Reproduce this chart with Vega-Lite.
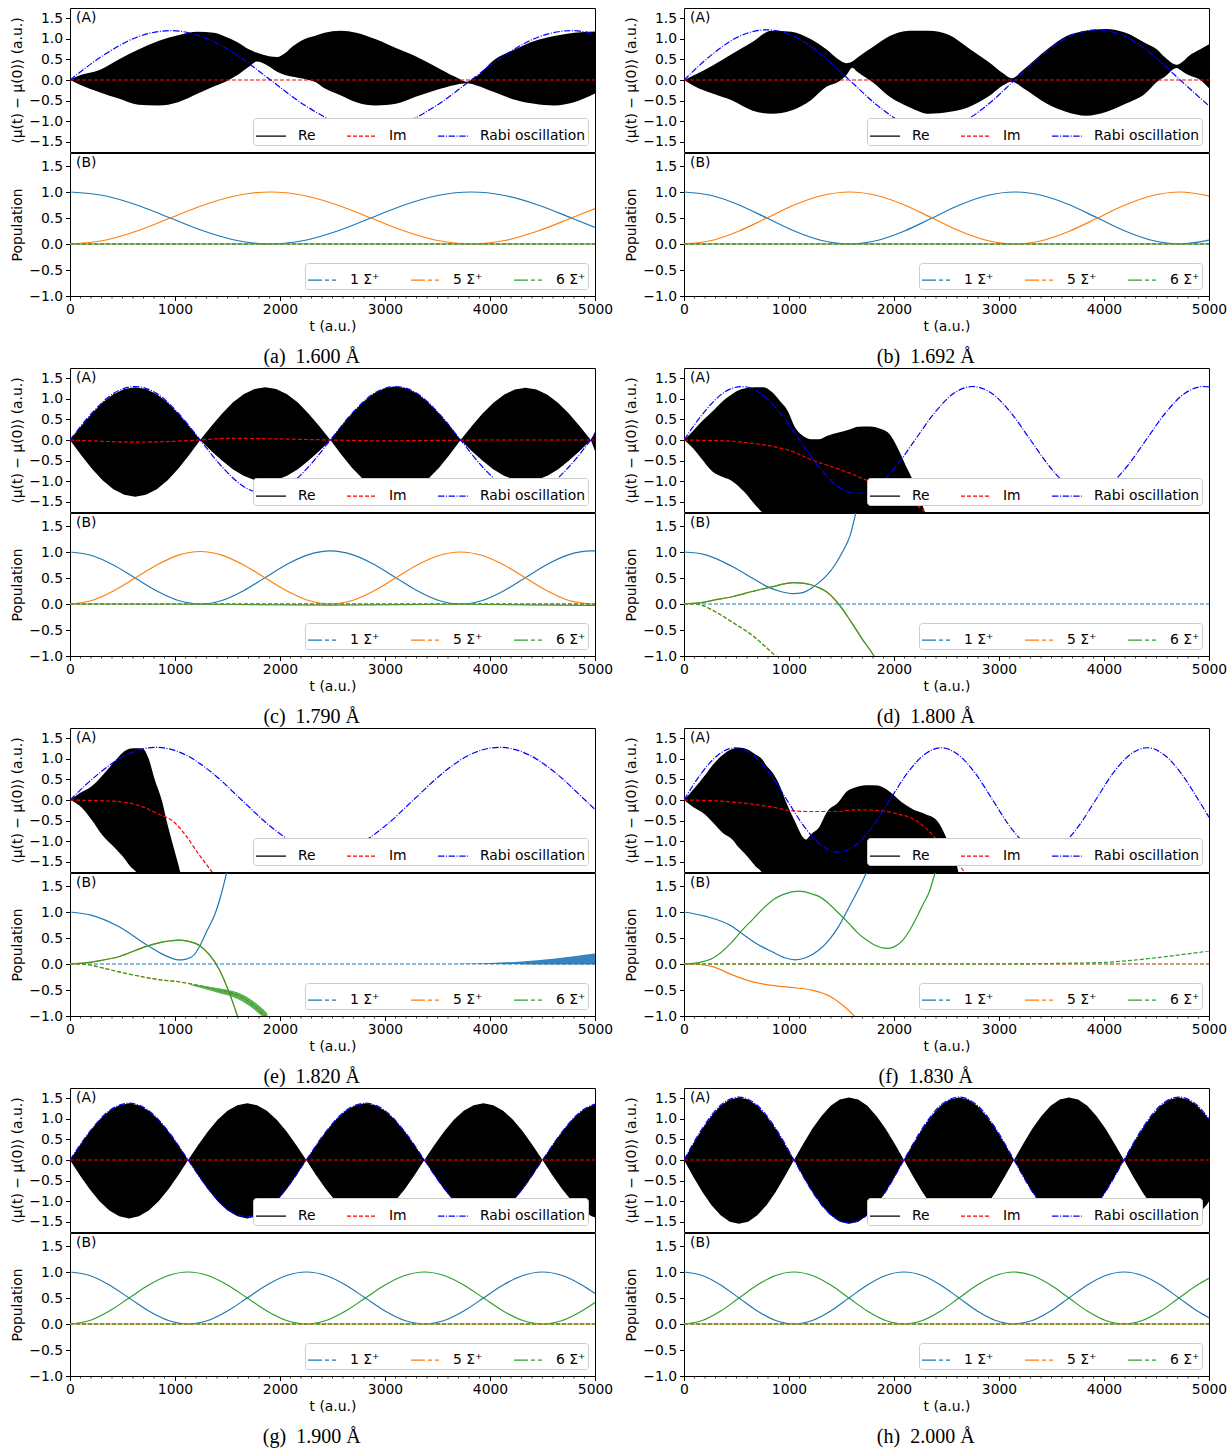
{
"$schema":"https://vega.github.io/schema/vega-lite/v6.json",
"padding":{"left":10,"top":7,"right":10,"bottom":5},
"background":"white",
"config":{
 "view":{"stroke":"black","strokeWidth":1},
 "axis":{"labelFont":"DejaVu Sans","labelFontSize":13.9,"labelColor":"black","titleFont":"DejaVu Sans","titleFontSize":13.9,"titleFontWeight":"normal","titleColor":"black","tickColor":"black","tickSize":4.5,"tickWidth":1,"grid":false,"domain":false,"labelPadding":3,"labelOverlap":false,"labelFlush":false,"labelBound":false},
 "legend":{"orient":"bottom-right","direction":"horizontal","columns":3,"symbolType":"stroke","symbolStrokeWidth":1.3,"columnPadding":28,"padding":2,"offset":7,"fillColor":"white","strokeColor":"#cccccc","cornerRadius":3,"labelFont":"DejaVu Sans","labelFontSize":13.9,"labelColor":"black"},
 "title":{"orient":"bottom","anchor":"middle","frame":"bounds","font":"Liberation Serif","fontSize":20,"fontWeight":"normal","color":"black","offset":13},
 "line":{"strokeWidth":1.2,"interpolate":"monotone"},
 "area":{"interpolate":"monotone"},
 "text":{"font":"DejaVu Sans","fontSize":13.9,"color":"black"}
},
"datasets":{
"minor":[{"t":100},{"t":200},{"t":300},{"t":400},{"t":500},{"t":600},{"t":700},{"t":800},{"t":900},{"t":1100},{"t":1200},{"t":1300},{"t":1400},{"t":1500},{"t":1600},{"t":1700},{"t":1800},{"t":1900},{"t":2100},{"t":2200},{"t":2300},{"t":2400},{"t":2500},{"t":2600},{"t":2700},{"t":2800},{"t":2900},{"t":3100},{"t":3200},{"t":3300},{"t":3400},{"t":3500},{"t":3600},{"t":3700},{"t":3800},{"t":3900},{"t":4100},{"t":4200},{"t":4300},{"t":4400},{"t":4500},{"t":4600},{"t":4700},{"t":4800},{"t":4900}],
"band":[
{"p":"e","s":"6","t":1150,"hi":-0.39,"lo":-0.41},{"p":"e","s":"6","t":1400,"hi":-0.46,"lo":-0.55},{"p":"e","s":"6","t":1600,"hi":-0.55,"lo":-0.68},{"p":"e","s":"6","t":1750,"hi":-0.72,"lo":-0.87},{"p":"e","s":"6","t":1880,"hi":-0.95,"lo":-1.1},
{"p":"e","s":"1","t":3700,"hi":0.005,"lo":0},{"p":"e","s":"1","t":4000,"hi":0.02,"lo":0},{"p":"e","s":"1","t":4300,"hi":0.05,"lo":-0.005},{"p":"e","s":"1","t":4600,"hi":0.1,"lo":-0.01},{"p":"e","s":"1","t":4800,"hi":0.15,"lo":-0.01},{"p":"e","s":"1","t":5000,"hi":0.2,"lo":-0.01}
],
"env":[
{"p":"a","t":0,"hi":0,"lo":0},{"p":"a","t":100,"hi":0.12,"lo":-0.12},{"p":"a","t":275,"hi":0.24,"lo":-0.29},{"p":"a","t":464,"hi":0.5,"lo":-0.45},{"p":"a","t":652,"hi":0.74,"lo":-0.6},{"p":"a","t":841,"hi":0.95,"lo":-0.62},{"p":"a","t":1029,"hi":1.09,"lo":-0.54},{"p":"a","t":1218,"hi":1.17,"lo":-0.33},{"p":"a","t":1368,"hi":1.15,"lo":-0.16},{"p":"a","t":1481,"hi":1.05,"lo":-0.04},{"p":"a","t":1595,"hi":0.92,"lo":0.12},{"p":"a","t":1708,"hi":0.74,"lo":0.33},{"p":"a","t":1783,"hi":0.66,"lo":0.45},{"p":"a","t":1896,"hi":0.58,"lo":0.33},{"p":"a","t":1972,"hi":0.56,"lo":0.2},{"p":"a","t":2047,"hi":0.65,"lo":0.12},{"p":"a","t":2122,"hi":0.82,"lo":0.08},{"p":"a","t":2198,"hi":0.95,"lo":0.04},{"p":"a","t":2273,"hi":1.03,"lo":0.0},{"p":"a","t":2330,"hi":1.07,"lo":-0.04},{"p":"a","t":2424,"hi":1.15,"lo":-0.2},{"p":"a","t":2575,"hi":1.2,"lo":-0.37},{"p":"a","t":2726,"hi":1.15,"lo":-0.54},{"p":"a","t":2914,"hi":0.99,"lo":-0.62},{"p":"a","t":3103,"hi":0.78,"lo":-0.58},{"p":"a","t":3291,"hi":0.58,"lo":-0.41},{"p":"a","t":3480,"hi":0.33,"lo":-0.25},{"p":"a","t":3668,"hi":0.08,"lo":-0.12},{"p":"a","t":3781,"hi":-0.04,"lo":-0.08},{"p":"a","t":3857,"hi":0.06,"lo":-0.12},{"p":"a","t":4045,"hi":0.5,"lo":-0.3},{"p":"a","t":4234,"hi":0.74,"lo":-0.48},{"p":"a","t":4422,"hi":0.95,"lo":-0.58},{"p":"a","t":4611,"hi":1.07,"lo":-0.62},{"p":"a","t":4800,"hi":1.15,"lo":-0.54},{"p":"a","t":5000,"hi":1.18,"lo":-0.33},
{"p":"b","t":0,"hi":0,"lo":0},{"p":"b","t":100,"hi":0.12,"lo":-0.15},{"p":"b","t":273,"hi":0.35,"lo":-0.33},{"p":"b","t":460,"hi":0.64,"lo":-0.5},{"p":"b","t":648,"hi":0.92,"lo":-0.74},{"p":"b","t":835,"hi":1.2,"lo":-0.82},{"p":"b","t":1022,"hi":1.17,"lo":-0.74},{"p":"b","t":1209,"hi":0.99,"lo":-0.49},{"p":"b","t":1359,"hi":0.74,"lo":-0.16},{"p":"b","t":1472,"hi":0.5,"lo":-0.04},{"p":"b","t":1547,"hi":0.41,"lo":0.12},{"p":"b","t":1603,"hi":0.45,"lo":0.3},{"p":"b","t":1650,"hi":0.54,"lo":0.2},{"p":"b","t":1809,"hi":0.82,"lo":-0.08},{"p":"b","t":1959,"hi":1.07,"lo":-0.41},{"p":"b","t":2146,"hi":1.2,"lo":-0.66},{"p":"b","t":2333,"hi":1.2,"lo":-0.82},{"p":"b","t":2520,"hi":1.1,"lo":-0.78},{"p":"b","t":2708,"hi":0.78,"lo":-0.66},{"p":"b","t":2895,"hi":0.45,"lo":-0.41},{"p":"b","t":3045,"hi":0.15,"lo":-0.12},{"p":"b","t":3120,"hi":0.04,"lo":-0.04},{"p":"b","t":3232,"hi":0.25,"lo":-0.2},{"p":"b","t":3457,"hi":0.74,"lo":-0.58},{"p":"b","t":3644,"hi":1.07,"lo":-0.78},{"p":"b","t":3831,"hi":1.2,"lo":-0.87},{"p":"b","t":4018,"hi":1.24,"lo":-0.78},{"p":"b","t":4206,"hi":1.15,"lo":-0.58},{"p":"b","t":4393,"hi":0.9,"lo":-0.33},{"p":"b","t":4505,"hi":0.74,"lo":-0.04},{"p":"b","t":4580,"hi":0.55,"lo":0.08},{"p":"b","t":4692,"hi":0.37,"lo":0.29},{"p":"b","t":4750,"hi":0.45,"lo":0.2},{"p":"b","t":4805,"hi":0.58,"lo":0.12},{"p":"b","t":4917,"hi":0.75,"lo":0.0},{"p":"b","t":5000,"hi":0.87,"lo":-0.2},
{"p":"c","t":0,"hi":0,"lo":0},{"p":"c","t":103,"hi":0.33,"lo":-0.36},{"p":"c","t":207,"hi":0.64,"lo":-0.69},{"p":"c","t":310,"hi":0.91,"lo":-0.98},{"p":"c","t":413,"hi":1.11,"lo":-1.2},{"p":"c","t":517,"hi":1.24,"lo":-1.33},{"p":"c","t":620,"hi":1.28,"lo":-1.38},{"p":"c","t":723,"hi":1.24,"lo":-1.33},{"p":"c","t":827,"hi":1.11,"lo":-1.2},{"p":"c","t":930,"hi":0.91,"lo":-0.98},{"p":"c","t":1033,"hi":0.64,"lo":-0.69},{"p":"c","t":1137,"hi":0.33,"lo":-0.36},{"p":"c","t":1240,"hi":0,"lo":0},
{"p":"c","t":1343,"hi":0.33,"lo":-0.26},{"p":"c","t":1447,"hi":0.64,"lo":-0.5},{"p":"c","t":1550,"hi":0.91,"lo":-0.71},{"p":"c","t":1653,"hi":1.11,"lo":-0.87},{"p":"c","t":1757,"hi":1.24,"lo":-0.97},{"p":"c","t":1860,"hi":1.28,"lo":-1.0},{"p":"c","t":1963,"hi":1.24,"lo":-0.97},{"p":"c","t":2067,"hi":1.11,"lo":-0.87},{"p":"c","t":2170,"hi":0.91,"lo":-0.71},{"p":"c","t":2273,"hi":0.64,"lo":-0.5},{"p":"c","t":2377,"hi":0.33,"lo":-0.26},{"p":"c","t":2480,"hi":0,"lo":0},
{"p":"c","t":2583,"hi":0.34,"lo":-0.35},{"p":"c","t":2687,"hi":0.65,"lo":-0.68},{"p":"c","t":2790,"hi":0.92,"lo":-0.95},{"p":"c","t":2893,"hi":1.13,"lo":-1.17},{"p":"c","t":2997,"hi":1.26,"lo":-1.3},{"p":"c","t":3100,"hi":1.3,"lo":-1.35},{"p":"c","t":3203,"hi":1.26,"lo":-1.3},{"p":"c","t":3307,"hi":1.13,"lo":-1.17},{"p":"c","t":3410,"hi":0.92,"lo":-0.95},{"p":"c","t":3513,"hi":0.65,"lo":-0.68},{"p":"c","t":3617,"hi":0.34,"lo":-0.35},{"p":"c","t":3720,"hi":0,"lo":0},
{"p":"c","t":3823,"hi":0.33,"lo":-0.26},{"p":"c","t":3927,"hi":0.64,"lo":-0.5},{"p":"c","t":4030,"hi":0.9,"lo":-0.71},{"p":"c","t":4133,"hi":1.1,"lo":-0.87},{"p":"c","t":4237,"hi":1.23,"lo":-0.97},{"p":"c","t":4340,"hi":1.27,"lo":-1.0},{"p":"c","t":4443,"hi":1.23,"lo":-0.97},{"p":"c","t":4547,"hi":1.1,"lo":-0.87},{"p":"c","t":4650,"hi":0.9,"lo":-0.71},{"p":"c","t":4753,"hi":0.64,"lo":-0.5},{"p":"c","t":4857,"hi":0.33,"lo":-0.26},{"p":"c","t":4960,"hi":0,"lo":0},{"p":"c","t":5000,"hi":0.2,"lo":-0.27},
{"p":"d","t":0,"hi":0,"lo":0},{"p":"d","t":86,"hi":0.22,"lo":-0.2},{"p":"d","t":150,"hi":0.4,"lo":-0.4},{"p":"d","t":273,"hi":0.7,"lo":-0.77},{"p":"d","t":370,"hi":0.95,"lo":-0.9},{"p":"d","t":460,"hi":1.12,"lo":-1.0},{"p":"d","t":573,"hi":1.25,"lo":-1.26},{"p":"d","t":685,"hi":1.28,"lo":-1.6},{"p":"d","t":760,"hi":1.28,"lo":-1.8},{"p":"d","t":835,"hi":1.17,"lo":-2},{"p":"d","t":910,"hi":0.96,"lo":-2},{"p":"d","t":985,"hi":0.72,"lo":-2},{"p":"d","t":1060,"hi":0.3,"lo":-2},{"p":"d","t":1135,"hi":0.1,"lo":-2},{"p":"d","t":1210,"hi":0.02,"lo":-2},{"p":"d","t":1285,"hi":0.02,"lo":-2},{"p":"d","t":1360,"hi":0.1,"lo":-2},{"p":"d","t":1472,"hi":0.18,"lo":-2},{"p":"d","t":1584,"hi":0.26,"lo":-2},{"p":"d","t":1659,"hi":0.32,"lo":-2},{"p":"d","t":1771,"hi":0.33,"lo":-2},{"p":"d","t":1884,"hi":0.26,"lo":-2},{"p":"d","t":1959,"hi":0.14,"lo":-2},{"p":"d","t":2034,"hi":-0.19,"lo":-2},{"p":"d","t":2108,"hi":-0.6,"lo":-2},{"p":"d","t":2183,"hi":-1.0,"lo":-2},{"p":"d","t":2258,"hi":-1.5,"lo":-2},{"p":"d","t":2330,"hi":-2,"lo":-2},
{"p":"e","t":0,"hi":0,"lo":0},{"p":"e","t":87,"hi":0.16,"lo":-0.13},{"p":"e","t":200,"hi":0.32,"lo":-0.46},{"p":"e","t":313,"hi":0.61,"lo":-0.87},{"p":"e","t":426,"hi":0.94,"lo":-1.16},{"p":"e","t":501,"hi":1.15,"lo":-1.37},{"p":"e","t":577,"hi":1.25,"lo":-1.62},{"p":"e","t":634,"hi":1.26,"lo":-1.76},{"p":"e","t":690,"hi":1.25,"lo":-2},{"p":"e","t":747,"hi":1.02,"lo":-2},{"p":"e","t":803,"hi":0.53,"lo":-2},{"p":"e","t":879,"hi":-0.05,"lo":-2},{"p":"e","t":916,"hi":-0.46,"lo":-2},{"p":"e","t":992,"hi":-1.2,"lo":-2},{"p":"e","t":1048,"hi":-1.74,"lo":-2},{"p":"e","t":1070,"hi":-2,"lo":-2},
{"p":"f","t":0,"hi":0,"lo":0},{"p":"f","t":86,"hi":0.25,"lo":-0.17},{"p":"f","t":200,"hi":0.6,"lo":-0.35},{"p":"f","t":273,"hi":0.85,"lo":-0.54},{"p":"f","t":370,"hi":1.1,"lo":-0.8},{"p":"f","t":460,"hi":1.24,"lo":-0.96},{"p":"f","t":520,"hi":1.27,"lo":-1.15},{"p":"f","t":573,"hi":1.26,"lo":-1.29},{"p":"f","t":685,"hi":1.1,"lo":-1.62},{"p":"f","t":741,"hi":1.0,"lo":-1.76},{"p":"f","t":780,"hi":0.85,"lo":-2},{"p":"f","t":835,"hi":0.69,"lo":-2},{"p":"f","t":910,"hi":0.36,"lo":-2},{"p":"f","t":985,"hi":-0.13,"lo":-2},{"p":"f","t":1060,"hi":-0.54,"lo":-2},{"p":"f","t":1135,"hi":-0.91,"lo":-2},{"p":"f","t":1160,"hi":-0.96,"lo":-2},{"p":"f","t":1210,"hi":-0.83,"lo":-2},{"p":"f","t":1285,"hi":-0.67,"lo":-2},{"p":"f","t":1360,"hi":-0.3,"lo":-2},{"p":"f","t":1472,"hi":-0.05,"lo":-2},{"p":"f","t":1547,"hi":0.2,"lo":-2},{"p":"f","t":1622,"hi":0.3,"lo":-2},{"p":"f","t":1734,"hi":0.36,"lo":-2},{"p":"f","t":1846,"hi":0.35,"lo":-2},{"p":"f","t":1959,"hi":0.2,"lo":-2},{"p":"f","t":2071,"hi":-0.05,"lo":-2},{"p":"f","t":2183,"hi":-0.23,"lo":-2},{"p":"f","t":2296,"hi":-0.34,"lo":-2},{"p":"f","t":2408,"hi":-0.5,"lo":-2},{"p":"f","t":2483,"hi":-0.83,"lo":-2},{"p":"f","t":2558,"hi":-1.29,"lo":-2},{"p":"f","t":2600,"hi":-1.6,"lo":-2},{"p":"f","t":2630,"hi":-2,"lo":-2},
{"p":"g","t":0,"hi":0,"lo":0},{"p":"g","t":94,"hi":0.36,"lo":-0.37},{"p":"g","t":188,"hi":0.69,"lo":-0.71},{"p":"g","t":281,"hi":0.98,"lo":-1.0},{"p":"g","t":375,"hi":1.2,"lo":-1.23},{"p":"g","t":469,"hi":1.33,"lo":-1.37},{"p":"g","t":563,"hi":1.38,"lo":-1.42},{"p":"g","t":656,"hi":1.33,"lo":-1.37},{"p":"g","t":750,"hi":1.2,"lo":-1.23},{"p":"g","t":844,"hi":0.98,"lo":-1.0},{"p":"g","t":938,"hi":0.69,"lo":-0.71},{"p":"g","t":1031,"hi":0.36,"lo":-0.37},{"p":"g","t":1125,"hi":0,"lo":0},
{"p":"g","t":1219,"hi":0.36,"lo":-0.37},{"p":"g","t":1313,"hi":0.69,"lo":-0.71},{"p":"g","t":1406,"hi":0.98,"lo":-1.0},{"p":"g","t":1500,"hi":1.2,"lo":-1.23},{"p":"g","t":1594,"hi":1.33,"lo":-1.37},{"p":"g","t":1688,"hi":1.38,"lo":-1.42},{"p":"g","t":1781,"hi":1.33,"lo":-1.37},{"p":"g","t":1875,"hi":1.2,"lo":-1.23},{"p":"g","t":1969,"hi":0.98,"lo":-1.0},{"p":"g","t":2063,"hi":0.69,"lo":-0.71},{"p":"g","t":2156,"hi":0.36,"lo":-0.37},{"p":"g","t":2250,"hi":0,"lo":0},
{"p":"g","t":2344,"hi":0.36,"lo":-0.37},{"p":"g","t":2438,"hi":0.69,"lo":-0.71},{"p":"g","t":2531,"hi":0.98,"lo":-1.0},{"p":"g","t":2625,"hi":1.2,"lo":-1.23},{"p":"g","t":2719,"hi":1.33,"lo":-1.37},{"p":"g","t":2813,"hi":1.38,"lo":-1.42},{"p":"g","t":2906,"hi":1.33,"lo":-1.37},{"p":"g","t":3000,"hi":1.2,"lo":-1.23},{"p":"g","t":3094,"hi":0.98,"lo":-1.0},{"p":"g","t":3188,"hi":0.69,"lo":-0.71},{"p":"g","t":3281,"hi":0.36,"lo":-0.37},{"p":"g","t":3375,"hi":0,"lo":0},
{"p":"g","t":3469,"hi":0.36,"lo":-0.37},{"p":"g","t":3563,"hi":0.69,"lo":-0.71},{"p":"g","t":3656,"hi":0.98,"lo":-1.0},{"p":"g","t":3750,"hi":1.2,"lo":-1.23},{"p":"g","t":3844,"hi":1.33,"lo":-1.37},{"p":"g","t":3938,"hi":1.38,"lo":-1.42},{"p":"g","t":4031,"hi":1.33,"lo":-1.37},{"p":"g","t":4125,"hi":1.2,"lo":-1.23},{"p":"g","t":4219,"hi":0.98,"lo":-1.0},{"p":"g","t":4313,"hi":0.69,"lo":-0.71},{"p":"g","t":4406,"hi":0.36,"lo":-0.37},{"p":"g","t":4500,"hi":0,"lo":0},
{"p":"g","t":4594,"hi":0.36,"lo":-0.37},{"p":"g","t":4688,"hi":0.69,"lo":-0.71},{"p":"g","t":4781,"hi":0.98,"lo":-1.0},{"p":"g","t":4875,"hi":1.2,"lo":-1.23},{"p":"g","t":4969,"hi":1.33,"lo":-1.37},{"p":"g","t":5000,"hi":1.36,"lo":-1.4},
{"p":"h","t":0,"hi":0,"lo":0},{"p":"h","t":87,"hi":0.39,"lo":-0.4},{"p":"h","t":175,"hi":0.76,"lo":-0.78},{"p":"h","t":262,"hi":1.07,"lo":-1.1},{"p":"h","t":349,"hi":1.32,"lo":-1.34},{"p":"h","t":436,"hi":1.47,"lo":-1.5},{"p":"h","t":524,"hi":1.52,"lo":-1.55},{"p":"h","t":611,"hi":1.47,"lo":-1.5},{"p":"h","t":698,"hi":1.32,"lo":-1.34},{"p":"h","t":786,"hi":1.07,"lo":-1.1},{"p":"h","t":873,"hi":0.76,"lo":-0.78},{"p":"h","t":960,"hi":0.39,"lo":-0.4},{"p":"h","t":1048,"hi":0,"lo":0},
{"p":"h","t":1135,"hi":0.39,"lo":-0.4},{"p":"h","t":1222,"hi":0.76,"lo":-0.78},{"p":"h","t":1310,"hi":1.07,"lo":-1.1},{"p":"h","t":1397,"hi":1.32,"lo":-1.34},{"p":"h","t":1484,"hi":1.47,"lo":-1.5},{"p":"h","t":1571,"hi":1.52,"lo":-1.55},{"p":"h","t":1659,"hi":1.47,"lo":-1.5},{"p":"h","t":1746,"hi":1.32,"lo":-1.34},{"p":"h","t":1833,"hi":1.07,"lo":-1.1},{"p":"h","t":1920,"hi":0.76,"lo":-0.78},{"p":"h","t":2008,"hi":0.39,"lo":-0.4},{"p":"h","t":2095,"hi":0,"lo":0},
{"p":"h","t":2182,"hi":0.39,"lo":-0.4},{"p":"h","t":2270,"hi":0.76,"lo":-0.78},{"p":"h","t":2357,"hi":1.07,"lo":-1.1},{"p":"h","t":2444,"hi":1.32,"lo":-1.34},{"p":"h","t":2531,"hi":1.47,"lo":-1.5},{"p":"h","t":2619,"hi":1.52,"lo":-1.55},{"p":"h","t":2706,"hi":1.47,"lo":-1.5},{"p":"h","t":2793,"hi":1.32,"lo":-1.34},{"p":"h","t":2881,"hi":1.07,"lo":-1.1},{"p":"h","t":2968,"hi":0.76,"lo":-0.78},{"p":"h","t":3055,"hi":0.39,"lo":-0.4},{"p":"h","t":3143,"hi":0,"lo":0},
{"p":"h","t":3230,"hi":0.39,"lo":-0.4},{"p":"h","t":3317,"hi":0.76,"lo":-0.78},{"p":"h","t":3404,"hi":1.07,"lo":-1.1},{"p":"h","t":3492,"hi":1.32,"lo":-1.34},{"p":"h","t":3579,"hi":1.47,"lo":-1.5},{"p":"h","t":3666,"hi":1.52,"lo":-1.55},{"p":"h","t":3753,"hi":1.47,"lo":-1.5},{"p":"h","t":3841,"hi":1.32,"lo":-1.34},{"p":"h","t":3928,"hi":1.07,"lo":-1.1},{"p":"h","t":4015,"hi":0.76,"lo":-0.78},{"p":"h","t":4102,"hi":0.39,"lo":-0.4},{"p":"h","t":4190,"hi":0,"lo":0},
{"p":"h","t":4277,"hi":0.39,"lo":-0.4},{"p":"h","t":4365,"hi":0.76,"lo":-0.78},{"p":"h","t":4452,"hi":1.07,"lo":-1.1},{"p":"h","t":4539,"hi":1.32,"lo":-1.34},{"p":"h","t":4626,"hi":1.47,"lo":-1.5},{"p":"h","t":4714,"hi":1.52,"lo":-1.55},{"p":"h","t":4801,"hi":1.47,"lo":-1.5},{"p":"h","t":4888,"hi":1.32,"lo":-1.34},{"p":"h","t":4976,"hi":1.07,"lo":-1.1},{"p":"h","t":5000,"hi":0.99,"lo":-1.01}
],
"la":[
{"p":"a","s":"Im","t":0,"v":0},{"p":"a","s":"Im","t":5000,"v":0},
{"p":"a","s":"Rabi","t":0,"v":0},{"p":"a","s":"Rabi","t":318,"v":0.6},{"p":"a","s":"Rabi","t":637,"v":1.04},{"p":"a","s":"Rabi","t":955,"v":1.2},{"p":"a","s":"Rabi","t":1273,"v":1.04},{"p":"a","s":"Rabi","t":1592,"v":0.6},{"p":"a","s":"Rabi","t":1910,"v":0},{"p":"a","s":"Rabi","t":2228,"v":-0.6},{"p":"a","s":"Rabi","t":2547,"v":-1.04},{"p":"a","s":"Rabi","t":2865,"v":-1.2},{"p":"a","s":"Rabi","t":3183,"v":-1.04},{"p":"a","s":"Rabi","t":3502,"v":-0.6},{"p":"a","s":"Rabi","t":3820,"v":0},{"p":"a","s":"Rabi","t":4138,"v":0.6},{"p":"a","s":"Rabi","t":4457,"v":1.04},{"p":"a","s":"Rabi","t":4775,"v":1.2},{"p":"a","s":"Rabi","t":5000,"v":1.12},
{"p":"b","s":"Im","t":0,"v":0},{"p":"b","s":"Im","t":5000,"v":0},
{"p":"b","s":"Rabi","t":0,"v":0},{"p":"b","s":"Rabi","t":263,"v":0.61},{"p":"b","s":"Rabi","t":525,"v":1.06},{"p":"b","s":"Rabi","t":788,"v":1.22},{"p":"b","s":"Rabi","t":1050,"v":1.06},{"p":"b","s":"Rabi","t":1313,"v":0.61},{"p":"b","s":"Rabi","t":1575,"v":0},{"p":"b","s":"Rabi","t":1838,"v":-0.61},{"p":"b","s":"Rabi","t":2100,"v":-1.06},{"p":"b","s":"Rabi","t":2363,"v":-1.22},{"p":"b","s":"Rabi","t":2625,"v":-1.06},{"p":"b","s":"Rabi","t":2888,"v":-0.61},{"p":"b","s":"Rabi","t":3150,"v":0},{"p":"b","s":"Rabi","t":3413,"v":0.61},{"p":"b","s":"Rabi","t":3675,"v":1.06},{"p":"b","s":"Rabi","t":3938,"v":1.22},{"p":"b","s":"Rabi","t":4200,"v":1.06},{"p":"b","s":"Rabi","t":4463,"v":0.61},{"p":"b","s":"Rabi","t":4725,"v":0},{"p":"b","s":"Rabi","t":5000,"v":-0.63},
{"p":"c","s":"Im","t":0,"v":0},{"p":"c","s":"Im","t":300,"v":-0.03},{"p":"c","s":"Im","t":600,"v":-0.05},{"p":"c","s":"Im","t":900,"v":-0.04},{"p":"c","s":"Im","t":1240,"v":0},{"p":"c","s":"Im","t":1500,"v":0.04},{"p":"c","s":"Im","t":1900,"v":0.03},{"p":"c","s":"Im","t":2300,"v":0.01},{"p":"c","s":"Im","t":2500,"v":0},{"p":"c","s":"Im","t":3000,"v":-0.02},{"p":"c","s":"Im","t":3500,"v":-0.01},{"p":"c","s":"Im","t":4000,"v":0},{"p":"c","s":"Im","t":5000,"v":0},
{"p":"c","s":"Rabi","t":0,"v":0},{"p":"c","s":"Rabi","t":207,"v":0.65},{"p":"c","s":"Rabi","t":413,"v":1.13},{"p":"c","s":"Rabi","t":620,"v":1.3},{"p":"c","s":"Rabi","t":827,"v":1.13},{"p":"c","s":"Rabi","t":1033,"v":0.65},{"p":"c","s":"Rabi","t":1240,"v":0},{"p":"c","s":"Rabi","t":1447,"v":-0.65},{"p":"c","s":"Rabi","t":1653,"v":-1.13},{"p":"c","s":"Rabi","t":1860,"v":-1.3},{"p":"c","s":"Rabi","t":2067,"v":-1.13},{"p":"c","s":"Rabi","t":2273,"v":-0.65},{"p":"c","s":"Rabi","t":2480,"v":0},{"p":"c","s":"Rabi","t":2687,"v":0.65},{"p":"c","s":"Rabi","t":2893,"v":1.13},{"p":"c","s":"Rabi","t":3100,"v":1.3},{"p":"c","s":"Rabi","t":3307,"v":1.13},{"p":"c","s":"Rabi","t":3513,"v":0.65},{"p":"c","s":"Rabi","t":3720,"v":0},{"p":"c","s":"Rabi","t":3927,"v":-0.65},{"p":"c","s":"Rabi","t":4133,"v":-1.13},{"p":"c","s":"Rabi","t":4340,"v":-1.3},{"p":"c","s":"Rabi","t":4547,"v":-1.13},{"p":"c","s":"Rabi","t":4753,"v":-0.65},{"p":"c","s":"Rabi","t":4960,"v":0},{"p":"c","s":"Rabi","t":5000,"v":0.13},
{"p":"d","s":"Im","t":0,"v":0},{"p":"d","s":"Im","t":200,"v":-0.01},{"p":"d","s":"Im","t":460,"v":-0.03},{"p":"d","s":"Im","t":650,"v":-0.08},{"p":"d","s":"Im","t":835,"v":-0.15},{"p":"d","s":"Im","t":1022,"v":-0.27},{"p":"d","s":"Im","t":1210,"v":-0.48},{"p":"d","s":"Im","t":1397,"v":-0.64},{"p":"d","s":"Im","t":1584,"v":-0.81},{"p":"d","s":"Im","t":1734,"v":-0.97},{"p":"d","s":"Im","t":1900,"v":-1.15},{"p":"d","s":"Im","t":2050,"v":-1.35},{"p":"d","s":"Im","t":2200,"v":-1.55},{"p":"d","s":"Im","t":2300,"v":-1.77},{"p":"d","s":"Im","t":2350,"v":-1.9},
{"p":"d","s":"Rabi","t":0,"v":0},{"p":"d","s":"Rabi","t":183,"v":0.65},{"p":"d","s":"Rabi","t":367,"v":1.13},{"p":"d","s":"Rabi","t":550,"v":1.3},{"p":"d","s":"Rabi","t":733,"v":1.13},{"p":"d","s":"Rabi","t":917,"v":0.65},{"p":"d","s":"Rabi","t":1100,"v":0},{"p":"d","s":"Rabi","t":1283,"v":-0.65},{"p":"d","s":"Rabi","t":1467,"v":-1.13},{"p":"d","s":"Rabi","t":1650,"v":-1.3},{"p":"d","s":"Rabi","t":1833,"v":-1.13},{"p":"d","s":"Rabi","t":2017,"v":-0.65},{"p":"d","s":"Rabi","t":2200,"v":0},{"p":"d","s":"Rabi","t":2383,"v":0.65},{"p":"d","s":"Rabi","t":2567,"v":1.13},{"p":"d","s":"Rabi","t":2750,"v":1.3},{"p":"d","s":"Rabi","t":2933,"v":1.13},{"p":"d","s":"Rabi","t":3117,"v":0.65},{"p":"d","s":"Rabi","t":3300,"v":0},{"p":"d","s":"Rabi","t":3483,"v":-0.65},{"p":"d","s":"Rabi","t":3667,"v":-1.13},{"p":"d","s":"Rabi","t":3850,"v":-1.3},{"p":"d","s":"Rabi","t":4033,"v":-1.13},{"p":"d","s":"Rabi","t":4217,"v":-0.65},{"p":"d","s":"Rabi","t":4400,"v":0},{"p":"d","s":"Rabi","t":4583,"v":0.65},{"p":"d","s":"Rabi","t":4767,"v":1.13},{"p":"d","s":"Rabi","t":4950,"v":1.3},{"p":"d","s":"Rabi","t":5000,"v":1.29},
{"p":"e","s":"Im","t":0,"v":0},{"p":"e","s":"Im","t":300,"v":-0.02},{"p":"e","s":"Im","t":464,"v":-0.04},{"p":"e","s":"Im","t":652,"v":-0.13},{"p":"e","s":"Im","t":841,"v":-0.34},{"p":"e","s":"Im","t":992,"v":-0.54},{"p":"e","s":"Im","t":1105,"v":-0.87},{"p":"e","s":"Im","t":1218,"v":-1.29},{"p":"e","s":"Im","t":1350,"v":-1.74},{"p":"e","s":"Im","t":1380,"v":-1.85},
{"p":"e","s":"Rabi","t":0,"v":0},{"p":"e","s":"Rabi","t":273,"v":0.64},{"p":"e","s":"Rabi","t":545,"v":1.11},{"p":"e","s":"Rabi","t":818,"v":1.28},{"p":"e","s":"Rabi","t":1090,"v":1.11},{"p":"e","s":"Rabi","t":1363,"v":0.64},{"p":"e","s":"Rabi","t":1635,"v":0},{"p":"e","s":"Rabi","t":1908,"v":-0.64},{"p":"e","s":"Rabi","t":2180,"v":-1.11},{"p":"e","s":"Rabi","t":2453,"v":-1.28},{"p":"e","s":"Rabi","t":2725,"v":-1.11},{"p":"e","s":"Rabi","t":2998,"v":-0.64},{"p":"e","s":"Rabi","t":3270,"v":0},{"p":"e","s":"Rabi","t":3543,"v":0.64},{"p":"e","s":"Rabi","t":3815,"v":1.11},{"p":"e","s":"Rabi","t":4088,"v":1.28},{"p":"e","s":"Rabi","t":4360,"v":1.11},{"p":"e","s":"Rabi","t":4633,"v":0.64},{"p":"e","s":"Rabi","t":4905,"v":0},{"p":"e","s":"Rabi","t":5000,"v":-0.23},
{"p":"f","s":"Im","t":0,"v":0},{"p":"f","s":"Im","t":200,"v":-0.01},{"p":"f","s":"Im","t":460,"v":-0.05},{"p":"f","s":"Im","t":835,"v":-0.17},{"p":"f","s":"Im","t":1022,"v":-0.26},{"p":"f","s":"Im","t":1210,"v":-0.28},{"p":"f","s":"Im","t":1434,"v":-0.28},{"p":"f","s":"Im","t":1659,"v":-0.24},{"p":"f","s":"Im","t":1884,"v":-0.26},{"p":"f","s":"Im","t":2034,"v":-0.34},{"p":"f","s":"Im","t":2183,"v":-0.46},{"p":"f","s":"Im","t":2296,"v":-0.67},{"p":"f","s":"Im","t":2408,"v":-0.96},{"p":"f","s":"Im","t":2550,"v":-1.35},{"p":"f","s":"Im","t":2670,"v":-1.75},{"p":"f","s":"Im","t":2700,"v":-1.85},
{"p":"f","s":"Rabi","t":0,"v":0},{"p":"f","s":"Rabi","t":163,"v":0.64},{"p":"f","s":"Rabi","t":327,"v":1.1},{"p":"f","s":"Rabi","t":490,"v":1.27},{"p":"f","s":"Rabi","t":653,"v":1.1},{"p":"f","s":"Rabi","t":817,"v":0.64},{"p":"f","s":"Rabi","t":980,"v":0},{"p":"f","s":"Rabi","t":1143,"v":-0.64},{"p":"f","s":"Rabi","t":1307,"v":-1.1},{"p":"f","s":"Rabi","t":1470,"v":-1.27},{"p":"f","s":"Rabi","t":1633,"v":-1.1},{"p":"f","s":"Rabi","t":1797,"v":-0.64},{"p":"f","s":"Rabi","t":1960,"v":0},{"p":"f","s":"Rabi","t":2123,"v":0.64},{"p":"f","s":"Rabi","t":2287,"v":1.1},{"p":"f","s":"Rabi","t":2450,"v":1.27},{"p":"f","s":"Rabi","t":2613,"v":1.1},{"p":"f","s":"Rabi","t":2777,"v":0.64},{"p":"f","s":"Rabi","t":2940,"v":0},{"p":"f","s":"Rabi","t":3103,"v":-0.64},{"p":"f","s":"Rabi","t":3267,"v":-1.1},{"p":"f","s":"Rabi","t":3430,"v":-1.27},{"p":"f","s":"Rabi","t":3593,"v":-1.1},{"p":"f","s":"Rabi","t":3757,"v":-0.64},{"p":"f","s":"Rabi","t":3920,"v":0},{"p":"f","s":"Rabi","t":4083,"v":0.64},{"p":"f","s":"Rabi","t":4247,"v":1.1},{"p":"f","s":"Rabi","t":4410,"v":1.27},{"p":"f","s":"Rabi","t":4573,"v":1.1},{"p":"f","s":"Rabi","t":4737,"v":0.64},{"p":"f","s":"Rabi","t":4900,"v":0},{"p":"f","s":"Rabi","t":5000,"v":-0.42},
{"p":"g","s":"Im","t":0,"v":0},{"p":"g","s":"Im","t":5000,"v":0},
{"p":"g","s":"Rabi","t":0,"v":0},{"p":"g","s":"Rabi","t":188,"v":0.69},{"p":"g","s":"Rabi","t":375,"v":1.2},{"p":"g","s":"Rabi","t":563,"v":1.38},{"p":"g","s":"Rabi","t":750,"v":1.2},{"p":"g","s":"Rabi","t":938,"v":0.69},{"p":"g","s":"Rabi","t":1125,"v":0},{"p":"g","s":"Rabi","t":1313,"v":-0.69},{"p":"g","s":"Rabi","t":1500,"v":-1.2},{"p":"g","s":"Rabi","t":1688,"v":-1.38},{"p":"g","s":"Rabi","t":1875,"v":-1.2},{"p":"g","s":"Rabi","t":2063,"v":-0.69},{"p":"g","s":"Rabi","t":2250,"v":0},{"p":"g","s":"Rabi","t":2438,"v":0.69},{"p":"g","s":"Rabi","t":2625,"v":1.2},{"p":"g","s":"Rabi","t":2813,"v":1.38},{"p":"g","s":"Rabi","t":3000,"v":1.2},{"p":"g","s":"Rabi","t":3188,"v":0.69},{"p":"g","s":"Rabi","t":3375,"v":0},{"p":"g","s":"Rabi","t":3563,"v":-0.69},{"p":"g","s":"Rabi","t":3750,"v":-1.2},{"p":"g","s":"Rabi","t":3938,"v":-1.38},{"p":"g","s":"Rabi","t":4125,"v":-1.2},{"p":"g","s":"Rabi","t":4313,"v":-0.69},{"p":"g","s":"Rabi","t":4500,"v":0},{"p":"g","s":"Rabi","t":4688,"v":0.69},{"p":"g","s":"Rabi","t":4875,"v":1.2},{"p":"g","s":"Rabi","t":5000,"v":1.36},
{"p":"h","s":"Im","t":0,"v":0},{"p":"h","s":"Im","t":5000,"v":0},
{"p":"h","s":"Rabi","t":0,"v":0},{"p":"h","s":"Rabi","t":175,"v":0.77},{"p":"h","s":"Rabi","t":349,"v":1.33},{"p":"h","s":"Rabi","t":524,"v":1.53},{"p":"h","s":"Rabi","t":698,"v":1.33},{"p":"h","s":"Rabi","t":873,"v":0.77},{"p":"h","s":"Rabi","t":1048,"v":0},{"p":"h","s":"Rabi","t":1222,"v":-0.77},{"p":"h","s":"Rabi","t":1397,"v":-1.33},{"p":"h","s":"Rabi","t":1571,"v":-1.53},{"p":"h","s":"Rabi","t":1746,"v":-1.33},{"p":"h","s":"Rabi","t":1920,"v":-0.77},{"p":"h","s":"Rabi","t":2095,"v":0},{"p":"h","s":"Rabi","t":2270,"v":0.77},{"p":"h","s":"Rabi","t":2444,"v":1.33},{"p":"h","s":"Rabi","t":2619,"v":1.53},{"p":"h","s":"Rabi","t":2793,"v":1.33},{"p":"h","s":"Rabi","t":2968,"v":0.77},{"p":"h","s":"Rabi","t":3143,"v":0},{"p":"h","s":"Rabi","t":3317,"v":-0.77},{"p":"h","s":"Rabi","t":3492,"v":-1.33},{"p":"h","s":"Rabi","t":3666,"v":-1.53},{"p":"h","s":"Rabi","t":3841,"v":-1.33},{"p":"h","s":"Rabi","t":4015,"v":-0.77},{"p":"h","s":"Rabi","t":4190,"v":0},{"p":"h","s":"Rabi","t":4365,"v":0.77},{"p":"h","s":"Rabi","t":4539,"v":1.33},{"p":"h","s":"Rabi","t":4714,"v":1.53},{"p":"h","s":"Rabi","t":4888,"v":1.33},{"p":"h","s":"Rabi","t":5000,"v":1.0}
],
"lb":[
{"p":"a","s":"1","d":0,"t":0,"v":1},{"p":"a","s":"1","d":0,"t":318,"v":0.933},{"p":"a","s":"1","d":0,"t":637,"v":0.75},{"p":"a","s":"1","d":0,"t":955,"v":0.5},{"p":"a","s":"1","d":0,"t":1273,"v":0.25},{"p":"a","s":"1","d":0,"t":1592,"v":0.067},{"p":"a","s":"1","d":0,"t":1910,"v":0},{"p":"a","s":"1","d":0,"t":2228,"v":0.067},{"p":"a","s":"1","d":0,"t":2547,"v":0.25},{"p":"a","s":"1","d":0,"t":2865,"v":0.5},{"p":"a","s":"1","d":0,"t":3183,"v":0.75},{"p":"a","s":"1","d":0,"t":3502,"v":0.933},{"p":"a","s":"1","d":0,"t":3820,"v":1},{"p":"a","s":"1","d":0,"t":4138,"v":0.933},{"p":"a","s":"1","d":0,"t":4457,"v":0.75},{"p":"a","s":"1","d":0,"t":4775,"v":0.5},{"p":"a","s":"1","d":0,"t":5000,"v":0.32},
{"p":"a","s":"5","d":0,"t":0,"v":0},{"p":"a","s":"5","d":0,"t":318,"v":0.067},{"p":"a","s":"5","d":0,"t":637,"v":0.25},{"p":"a","s":"5","d":0,"t":955,"v":0.5},{"p":"a","s":"5","d":0,"t":1273,"v":0.75},{"p":"a","s":"5","d":0,"t":1592,"v":0.933},{"p":"a","s":"5","d":0,"t":1910,"v":1},{"p":"a","s":"5","d":0,"t":2228,"v":0.933},{"p":"a","s":"5","d":0,"t":2547,"v":0.75},{"p":"a","s":"5","d":0,"t":2865,"v":0.5},{"p":"a","s":"5","d":0,"t":3183,"v":0.25},{"p":"a","s":"5","d":0,"t":3502,"v":0.067},{"p":"a","s":"5","d":0,"t":3820,"v":0},{"p":"a","s":"5","d":0,"t":4138,"v":0.067},{"p":"a","s":"5","d":0,"t":4457,"v":0.25},{"p":"a","s":"5","d":0,"t":4775,"v":0.5},{"p":"a","s":"5","d":0,"t":5000,"v":0.68},
{"p":"a","s":"6","d":0,"t":0,"v":0},{"p":"a","s":"6","d":0,"t":5000,"v":0},
{"p":"a","s":"1","d":1,"t":0,"v":0},{"p":"a","s":"1","d":1,"t":5000,"v":0},{"p":"a","s":"5","d":1,"t":0,"v":0},{"p":"a","s":"5","d":1,"t":5000,"v":0},{"p":"a","s":"6","d":1,"t":0,"v":0},{"p":"a","s":"6","d":1,"t":5000,"v":0},
{"p":"b","s":"1","d":0,"t":0,"v":1},{"p":"b","s":"1","d":0,"t":263,"v":0.933},{"p":"b","s":"1","d":0,"t":525,"v":0.75},{"p":"b","s":"1","d":0,"t":788,"v":0.5},{"p":"b","s":"1","d":0,"t":1050,"v":0.25},{"p":"b","s":"1","d":0,"t":1313,"v":0.067},{"p":"b","s":"1","d":0,"t":1575,"v":0},{"p":"b","s":"1","d":0,"t":1838,"v":0.067},{"p":"b","s":"1","d":0,"t":2100,"v":0.25},{"p":"b","s":"1","d":0,"t":2363,"v":0.5},{"p":"b","s":"1","d":0,"t":2625,"v":0.75},{"p":"b","s":"1","d":0,"t":2888,"v":0.933},{"p":"b","s":"1","d":0,"t":3150,"v":1},{"p":"b","s":"1","d":0,"t":3413,"v":0.933},{"p":"b","s":"1","d":0,"t":3675,"v":0.75},{"p":"b","s":"1","d":0,"t":3938,"v":0.5},{"p":"b","s":"1","d":0,"t":4200,"v":0.25},{"p":"b","s":"1","d":0,"t":4463,"v":0.067},{"p":"b","s":"1","d":0,"t":4725,"v":0},{"p":"b","s":"1","d":0,"t":5000,"v":0.073},
{"p":"b","s":"5","d":0,"t":0,"v":0},{"p":"b","s":"5","d":0,"t":263,"v":0.067},{"p":"b","s":"5","d":0,"t":525,"v":0.25},{"p":"b","s":"5","d":0,"t":788,"v":0.5},{"p":"b","s":"5","d":0,"t":1050,"v":0.75},{"p":"b","s":"5","d":0,"t":1313,"v":0.933},{"p":"b","s":"5","d":0,"t":1575,"v":1},{"p":"b","s":"5","d":0,"t":1838,"v":0.933},{"p":"b","s":"5","d":0,"t":2100,"v":0.75},{"p":"b","s":"5","d":0,"t":2363,"v":0.5},{"p":"b","s":"5","d":0,"t":2625,"v":0.25},{"p":"b","s":"5","d":0,"t":2888,"v":0.067},{"p":"b","s":"5","d":0,"t":3150,"v":0},{"p":"b","s":"5","d":0,"t":3413,"v":0.067},{"p":"b","s":"5","d":0,"t":3675,"v":0.25},{"p":"b","s":"5","d":0,"t":3938,"v":0.5},{"p":"b","s":"5","d":0,"t":4200,"v":0.75},{"p":"b","s":"5","d":0,"t":4463,"v":0.933},{"p":"b","s":"5","d":0,"t":4725,"v":1},{"p":"b","s":"5","d":0,"t":5000,"v":0.927},
{"p":"b","s":"6","d":0,"t":0,"v":0},{"p":"b","s":"6","d":0,"t":5000,"v":0},
{"p":"b","s":"1","d":1,"t":0,"v":0},{"p":"b","s":"1","d":1,"t":5000,"v":0},{"p":"b","s":"5","d":1,"t":0,"v":0},{"p":"b","s":"5","d":1,"t":5000,"v":0},{"p":"b","s":"6","d":1,"t":0,"v":0},{"p":"b","s":"6","d":1,"t":5000,"v":0},
{"p":"c","s":"1","d":0,"t":0,"v":1},{"p":"c","s":"1","d":0,"t":207,"v":0.933},{"p":"c","s":"1","d":0,"t":413,"v":0.75},{"p":"c","s":"1","d":0,"t":620,"v":0.5},{"p":"c","s":"1","d":0,"t":827,"v":0.25},{"p":"c","s":"1","d":0,"t":1033,"v":0.067},{"p":"c","s":"1","d":0,"t":1240,"v":0},{"p":"c","s":"1","d":0,"t":1447,"v":0.068},{"p":"c","s":"1","d":0,"t":1653,"v":0.255},{"p":"c","s":"1","d":0,"t":1860,"v":0.51},{"p":"c","s":"1","d":0,"t":2067,"v":0.765},{"p":"c","s":"1","d":0,"t":2273,"v":0.95},{"p":"c","s":"1","d":0,"t":2480,"v":1.02},{"p":"c","s":"1","d":0,"t":2687,"v":0.95},{"p":"c","s":"1","d":0,"t":2893,"v":0.765},{"p":"c","s":"1","d":0,"t":3100,"v":0.51},{"p":"c","s":"1","d":0,"t":3307,"v":0.255},{"p":"c","s":"1","d":0,"t":3513,"v":0.068},{"p":"c","s":"1","d":0,"t":3720,"v":0},{"p":"c","s":"1","d":0,"t":3927,"v":0.068},{"p":"c","s":"1","d":0,"t":4133,"v":0.255},{"p":"c","s":"1","d":0,"t":4340,"v":0.51},{"p":"c","s":"1","d":0,"t":4547,"v":0.765},{"p":"c","s":"1","d":0,"t":4753,"v":0.95},{"p":"c","s":"1","d":0,"t":4960,"v":1.02},{"p":"c","s":"1","d":0,"t":5000,"v":1.02},
{"p":"c","s":"5","d":0,"t":0,"v":0},{"p":"c","s":"5","d":0,"t":207,"v":0.067},{"p":"c","s":"5","d":0,"t":413,"v":0.25},{"p":"c","s":"5","d":0,"t":620,"v":0.5},{"p":"c","s":"5","d":0,"t":827,"v":0.75},{"p":"c","s":"5","d":0,"t":1033,"v":0.94},{"p":"c","s":"5","d":0,"t":1240,"v":1.01},{"p":"c","s":"5","d":0,"t":1447,"v":0.94},{"p":"c","s":"5","d":0,"t":1653,"v":0.75},{"p":"c","s":"5","d":0,"t":1860,"v":0.5},{"p":"c","s":"5","d":0,"t":2067,"v":0.25},{"p":"c","s":"5","d":0,"t":2273,"v":0.067},{"p":"c","s":"5","d":0,"t":2480,"v":0},{"p":"c","s":"5","d":0,"t":2687,"v":0.067},{"p":"c","s":"5","d":0,"t":2893,"v":0.25},{"p":"c","s":"5","d":0,"t":3100,"v":0.5},{"p":"c","s":"5","d":0,"t":3307,"v":0.75},{"p":"c","s":"5","d":0,"t":3513,"v":0.933},{"p":"c","s":"5","d":0,"t":3720,"v":1.0},{"p":"c","s":"5","d":0,"t":3927,"v":0.933},{"p":"c","s":"5","d":0,"t":4133,"v":0.75},{"p":"c","s":"5","d":0,"t":4340,"v":0.5},{"p":"c","s":"5","d":0,"t":4547,"v":0.25},{"p":"c","s":"5","d":0,"t":4753,"v":0.067},{"p":"c","s":"5","d":0,"t":4960,"v":0},{"p":"c","s":"5","d":0,"t":5000,"v":-0.005},
{"p":"c","s":"6","d":0,"t":0,"v":0},{"p":"c","s":"6","d":0,"t":1240,"v":-0.005},{"p":"c","s":"6","d":0,"t":2480,"v":-0.02},{"p":"c","s":"6","d":0,"t":3720,"v":-0.005},{"p":"c","s":"6","d":0,"t":4960,"v":-0.025},{"p":"c","s":"6","d":0,"t":5000,"v":-0.025},
{"p":"c","s":"1","d":1,"t":0,"v":0},{"p":"c","s":"1","d":1,"t":5000,"v":0},{"p":"c","s":"5","d":1,"t":0,"v":0},{"p":"c","s":"5","d":1,"t":5000,"v":0},{"p":"c","s":"6","d":1,"t":0,"v":0},{"p":"c","s":"6","d":1,"t":5000,"v":0},
{"p":"d","s":"1","d":0,"t":0,"v":1},{"p":"d","s":"1","d":0,"t":200,"v":0.95},{"p":"d","s":"1","d":0,"t":460,"v":0.72},{"p":"d","s":"1","d":0,"t":650,"v":0.5},{"p":"d","s":"1","d":0,"t":798,"v":0.33},{"p":"d","s":"1","d":0,"t":920,"v":0.24},{"p":"d","s":"1","d":0,"t":1041,"v":0.2},{"p":"d","s":"1","d":0,"t":1130,"v":0.22},{"p":"d","s":"1","d":0,"t":1210,"v":0.3},{"p":"d","s":"1","d":0,"t":1290,"v":0.42},{"p":"d","s":"1","d":0,"t":1360,"v":0.55},{"p":"d","s":"1","d":0,"t":1440,"v":0.76},{"p":"d","s":"1","d":0,"t":1509,"v":1.0},{"p":"d","s":"1","d":0,"t":1584,"v":1.33},{"p":"d","s":"1","d":0,"t":1640,"v":1.77},{"p":"d","s":"1","d":0,"t":1680,"v":2.0},
{"p":"d","s":"5","d":0,"t":0,"v":0},{"p":"d","s":"5","d":0,"t":150,"v":0.02},{"p":"d","s":"5","d":0,"t":273,"v":0.07},{"p":"d","s":"5","d":0,"t":460,"v":0.14},{"p":"d","s":"5","d":0,"t":650,"v":0.24},{"p":"d","s":"5","d":0,"t":835,"v":0.33},{"p":"d","s":"5","d":0,"t":1041,"v":0.41},{"p":"d","s":"5","d":0,"t":1130,"v":0.4},{"p":"d","s":"5","d":0,"t":1210,"v":0.37},{"p":"d","s":"5","d":0,"t":1290,"v":0.31},{"p":"d","s":"5","d":0,"t":1360,"v":0.23},{"p":"d","s":"5","d":0,"t":1472,"v":0.0},{"p":"d","s":"5","d":0,"t":1584,"v":-0.32},{"p":"d","s":"5","d":0,"t":1696,"v":-0.67},{"p":"d","s":"5","d":0,"t":1809,"v":-1.0},{"p":"d","s":"5","d":0,"t":1850,"v":-1.15},
{"p":"d","s":"6","d":0,"t":0,"v":0},{"p":"d","s":"6","d":0,"t":150,"v":0.02},{"p":"d","s":"6","d":0,"t":273,"v":0.07},{"p":"d","s":"6","d":0,"t":460,"v":0.14},{"p":"d","s":"6","d":0,"t":650,"v":0.24},{"p":"d","s":"6","d":0,"t":835,"v":0.33},{"p":"d","s":"6","d":0,"t":1041,"v":0.41},{"p":"d","s":"6","d":0,"t":1130,"v":0.4},{"p":"d","s":"6","d":0,"t":1210,"v":0.37},{"p":"d","s":"6","d":0,"t":1290,"v":0.31},{"p":"d","s":"6","d":0,"t":1360,"v":0.23},{"p":"d","s":"6","d":0,"t":1472,"v":0.0},{"p":"d","s":"6","d":0,"t":1584,"v":-0.32},{"p":"d","s":"6","d":0,"t":1696,"v":-0.67},{"p":"d","s":"6","d":0,"t":1809,"v":-1.0},{"p":"d","s":"6","d":0,"t":1850,"v":-1.15},
{"p":"d","s":"1","d":1,"t":0,"v":0},{"p":"d","s":"1","d":1,"t":5000,"v":0},
{"p":"d","s":"5","d":1,"t":0,"v":0},{"p":"d","s":"5","d":1,"t":86,"v":0},{"p":"d","s":"5","d":1,"t":180,"v":-0.03},{"p":"d","s":"5","d":1,"t":273,"v":-0.12},{"p":"d","s":"5","d":1,"t":460,"v":-0.35},{"p":"d","s":"5","d":1,"t":648,"v":-0.6},{"p":"d","s":"5","d":1,"t":835,"v":-0.93},{"p":"d","s":"5","d":1,"t":873,"v":-1.0},{"p":"d","s":"5","d":1,"t":900,"v":-1.05},
{"p":"d","s":"6","d":1,"t":0,"v":0},{"p":"d","s":"6","d":1,"t":86,"v":0},{"p":"d","s":"6","d":1,"t":180,"v":-0.03},{"p":"d","s":"6","d":1,"t":273,"v":-0.12},{"p":"d","s":"6","d":1,"t":460,"v":-0.35},{"p":"d","s":"6","d":1,"t":648,"v":-0.6},{"p":"d","s":"6","d":1,"t":835,"v":-0.93},{"p":"d","s":"6","d":1,"t":873,"v":-1.0},{"p":"d","s":"6","d":1,"t":900,"v":-1.05},
{"p":"e","s":"1","d":0,"t":0,"v":1},{"p":"e","s":"1","d":0,"t":200,"v":0.94},{"p":"e","s":"1","d":0,"t":464,"v":0.72},{"p":"e","s":"1","d":0,"t":728,"v":0.37},{"p":"e","s":"1","d":0,"t":900,"v":0.17},{"p":"e","s":"1","d":0,"t":1029,"v":0.08},{"p":"e","s":"1","d":0,"t":1100,"v":0.09},{"p":"e","s":"1","d":0,"t":1180,"v":0.17},{"p":"e","s":"1","d":0,"t":1237,"v":0.35},{"p":"e","s":"1","d":0,"t":1300,"v":0.62},{"p":"e","s":"1","d":0,"t":1388,"v":1.0},{"p":"e","s":"1","d":0,"t":1444,"v":1.37},{"p":"e","s":"1","d":0,"t":1490,"v":1.74},{"p":"e","s":"1","d":0,"t":1510,"v":1.9},
{"p":"e","s":"5","d":0,"t":0,"v":0},{"p":"e","s":"5","d":0,"t":150,"v":0.02},{"p":"e","s":"5","d":0,"t":275,"v":0.06},{"p":"e","s":"5","d":0,"t":464,"v":0.14},{"p":"e","s":"5","d":0,"t":728,"v":0.34},{"p":"e","s":"5","d":0,"t":900,"v":0.43},{"p":"e","s":"5","d":0,"t":1029,"v":0.46},{"p":"e","s":"5","d":0,"t":1120,"v":0.44},{"p":"e","s":"5","d":0,"t":1237,"v":0.35},{"p":"e","s":"5","d":0,"t":1331,"v":0.17},{"p":"e","s":"5","d":0,"t":1425,"v":-0.12},{"p":"e","s":"5","d":0,"t":1520,"v":-0.57},{"p":"e","s":"5","d":0,"t":1595,"v":-1.0},{"p":"e","s":"5","d":0,"t":1620,"v":-1.15},
{"p":"e","s":"6","d":0,"t":0,"v":0},{"p":"e","s":"6","d":0,"t":150,"v":0.02},{"p":"e","s":"6","d":0,"t":275,"v":0.06},{"p":"e","s":"6","d":0,"t":464,"v":0.14},{"p":"e","s":"6","d":0,"t":728,"v":0.34},{"p":"e","s":"6","d":0,"t":900,"v":0.43},{"p":"e","s":"6","d":0,"t":1029,"v":0.46},{"p":"e","s":"6","d":0,"t":1120,"v":0.44},{"p":"e","s":"6","d":0,"t":1237,"v":0.35},{"p":"e","s":"6","d":0,"t":1331,"v":0.17},{"p":"e","s":"6","d":0,"t":1425,"v":-0.12},{"p":"e","s":"6","d":0,"t":1520,"v":-0.57},{"p":"e","s":"6","d":0,"t":1595,"v":-1.0},{"p":"e","s":"6","d":0,"t":1620,"v":-1.15},
{"p":"e","s":"1","d":1,"t":0,"v":0},{"p":"e","s":"1","d":1,"t":5000,"v":0},
{"p":"e","s":"5","d":1,"t":0,"v":0},{"p":"e","s":"5","d":1,"t":150,"v":-0.01},{"p":"e","s":"5","d":1,"t":300,"v":-0.07},{"p":"e","s":"5","d":1,"t":464,"v":-0.15},{"p":"e","s":"5","d":1,"t":650,"v":-0.23},{"p":"e","s":"5","d":1,"t":841,"v":-0.3},{"p":"e","s":"5","d":1,"t":1029,"v":-0.34},{"p":"e","s":"5","d":1,"t":1218,"v":-0.41},{"p":"e","s":"5","d":1,"t":1407,"v":-0.5},{"p":"e","s":"5","d":1,"t":1595,"v":-0.6},{"p":"e","s":"5","d":1,"t":1746,"v":-0.79},{"p":"e","s":"5","d":1,"t":1859,"v":-1.0},{"p":"e","s":"5","d":1,"t":1900,"v":-1.08},
{"p":"e","s":"6","d":1,"t":0,"v":0},{"p":"e","s":"6","d":1,"t":150,"v":-0.01},{"p":"e","s":"6","d":1,"t":300,"v":-0.07},{"p":"e","s":"6","d":1,"t":464,"v":-0.15},{"p":"e","s":"6","d":1,"t":650,"v":-0.23},{"p":"e","s":"6","d":1,"t":841,"v":-0.3},{"p":"e","s":"6","d":1,"t":1029,"v":-0.34},{"p":"e","s":"6","d":1,"t":1218,"v":-0.41},{"p":"e","s":"6","d":1,"t":1407,"v":-0.5},{"p":"e","s":"6","d":1,"t":1595,"v":-0.6},{"p":"e","s":"6","d":1,"t":1746,"v":-0.79},{"p":"e","s":"6","d":1,"t":1859,"v":-1.0},{"p":"e","s":"6","d":1,"t":1900,"v":-1.08},
{"p":"f","s":"1","d":0,"t":0,"v":1},{"p":"f","s":"1","d":0,"t":200,"v":0.92},{"p":"f","s":"1","d":0,"t":460,"v":0.72},{"p":"f","s":"1","d":0,"t":536,"v":0.61},{"p":"f","s":"1","d":0,"t":700,"v":0.38},{"p":"f","s":"1","d":0,"t":835,"v":0.24},{"p":"f","s":"1","d":0,"t":960,"v":0.12},{"p":"f","s":"1","d":0,"t":1060,"v":0.08},{"p":"f","s":"1","d":0,"t":1160,"v":0.12},{"p":"f","s":"1","d":0,"t":1285,"v":0.27},{"p":"f","s":"1","d":0,"t":1380,"v":0.46},{"p":"f","s":"1","d":0,"t":1472,"v":0.72},{"p":"f","s":"1","d":0,"t":1584,"v":1.14},{"p":"f","s":"1","d":0,"t":1678,"v":1.5},{"p":"f","s":"1","d":0,"t":1734,"v":1.74},{"p":"f","s":"1","d":0,"t":1760,"v":1.85},
{"p":"f","s":"5","d":0,"t":0,"v":0},{"p":"f","s":"5","d":0,"t":150,"v":-0.01},{"p":"f","s":"5","d":0,"t":273,"v":-0.05},{"p":"f","s":"5","d":0,"t":460,"v":-0.21},{"p":"f","s":"5","d":0,"t":648,"v":-0.34},{"p":"f","s":"5","d":0,"t":835,"v":-0.41},{"p":"f","s":"5","d":0,"t":1022,"v":-0.45},{"p":"f","s":"5","d":0,"t":1210,"v":-0.5},{"p":"f","s":"5","d":0,"t":1397,"v":-0.63},{"p":"f","s":"5","d":0,"t":1509,"v":-0.79},{"p":"f","s":"5","d":0,"t":1622,"v":-1.0},{"p":"f","s":"5","d":0,"t":1660,"v":-1.08},
{"p":"f","s":"6","d":0,"t":0,"v":0},{"p":"f","s":"6","d":0,"t":150,"v":0.03},{"p":"f","s":"6","d":0,"t":273,"v":0.11},{"p":"f","s":"6","d":0,"t":460,"v":0.43},{"p":"f","s":"6","d":0,"t":536,"v":0.61},{"p":"f","s":"6","d":0,"t":650,"v":0.85},{"p":"f","s":"6","d":0,"t":760,"v":1.08},{"p":"f","s":"6","d":0,"t":860,"v":1.25},{"p":"f","s":"6","d":0,"t":947,"v":1.34},{"p":"f","s":"6","d":0,"t":1097,"v":1.4},{"p":"f","s":"6","d":0,"t":1200,"v":1.36},{"p":"f","s":"6","d":0,"t":1285,"v":1.3},{"p":"f","s":"6","d":0,"t":1380,"v":1.16},{"p":"f","s":"6","d":0,"t":1472,"v":0.98},{"p":"f","s":"6","d":0,"t":1570,"v":0.78},{"p":"f","s":"6","d":0,"t":1659,"v":0.59},{"p":"f","s":"6","d":0,"t":1740,"v":0.46},{"p":"f","s":"6","d":0,"t":1809,"v":0.37},{"p":"f","s":"6","d":0,"t":1940,"v":0.3},{"p":"f","s":"6","d":0,"t":2000,"v":0.33},{"p":"f","s":"6","d":0,"t":2071,"v":0.43},{"p":"f","s":"6","d":0,"t":2150,"v":0.65},{"p":"f","s":"6","d":0,"t":2221,"v":0.92},{"p":"f","s":"6","d":0,"t":2290,"v":1.2},{"p":"f","s":"6","d":0,"t":2333,"v":1.37},{"p":"f","s":"6","d":0,"t":2390,"v":1.74},{"p":"f","s":"6","d":0,"t":2410,"v":1.85},
{"p":"f","s":"1","d":1,"t":0,"v":0},{"p":"f","s":"1","d":1,"t":5000,"v":0},{"p":"f","s":"5","d":1,"t":0,"v":0},{"p":"f","s":"5","d":1,"t":5000,"v":0},
{"p":"f","s":"6","d":1,"t":0,"v":0},{"p":"f","s":"6","d":1,"t":3000,"v":0},{"p":"f","s":"6","d":1,"t":3500,"v":0.01},{"p":"f","s":"6","d":1,"t":4000,"v":0.03},{"p":"f","s":"6","d":1,"t":4206,"v":0.06},{"p":"f","s":"6","d":1,"t":4580,"v":0.14},{"p":"f","s":"6","d":1,"t":5000,"v":0.25},
{"p":"g","s":"1","d":0,"t":0,"v":1},{"p":"g","s":"1","d":0,"t":188,"v":0.933},{"p":"g","s":"1","d":0,"t":375,"v":0.75},{"p":"g","s":"1","d":0,"t":563,"v":0.5},{"p":"g","s":"1","d":0,"t":750,"v":0.25},{"p":"g","s":"1","d":0,"t":938,"v":0.067},{"p":"g","s":"1","d":0,"t":1125,"v":0},{"p":"g","s":"1","d":0,"t":1313,"v":0.067},{"p":"g","s":"1","d":0,"t":1500,"v":0.25},{"p":"g","s":"1","d":0,"t":1688,"v":0.5},{"p":"g","s":"1","d":0,"t":1875,"v":0.75},{"p":"g","s":"1","d":0,"t":2063,"v":0.933},{"p":"g","s":"1","d":0,"t":2250,"v":1},{"p":"g","s":"1","d":0,"t":2438,"v":0.933},{"p":"g","s":"1","d":0,"t":2625,"v":0.75},{"p":"g","s":"1","d":0,"t":2813,"v":0.5},{"p":"g","s":"1","d":0,"t":3000,"v":0.25},{"p":"g","s":"1","d":0,"t":3188,"v":0.067},{"p":"g","s":"1","d":0,"t":3375,"v":0},{"p":"g","s":"1","d":0,"t":3563,"v":0.067},{"p":"g","s":"1","d":0,"t":3750,"v":0.25},{"p":"g","s":"1","d":0,"t":3938,"v":0.5},{"p":"g","s":"1","d":0,"t":4125,"v":0.75},{"p":"g","s":"1","d":0,"t":4313,"v":0.933},{"p":"g","s":"1","d":0,"t":4500,"v":1},{"p":"g","s":"1","d":0,"t":4688,"v":0.933},{"p":"g","s":"1","d":0,"t":4875,"v":0.75},{"p":"g","s":"1","d":0,"t":5000,"v":0.587},
{"p":"g","s":"6","d":0,"t":0,"v":0},{"p":"g","s":"6","d":0,"t":188,"v":0.067},{"p":"g","s":"6","d":0,"t":375,"v":0.25},{"p":"g","s":"6","d":0,"t":563,"v":0.5},{"p":"g","s":"6","d":0,"t":750,"v":0.75},{"p":"g","s":"6","d":0,"t":938,"v":0.933},{"p":"g","s":"6","d":0,"t":1125,"v":1},{"p":"g","s":"6","d":0,"t":1313,"v":0.933},{"p":"g","s":"6","d":0,"t":1500,"v":0.75},{"p":"g","s":"6","d":0,"t":1688,"v":0.5},{"p":"g","s":"6","d":0,"t":1875,"v":0.25},{"p":"g","s":"6","d":0,"t":2063,"v":0.067},{"p":"g","s":"6","d":0,"t":2250,"v":0},{"p":"g","s":"6","d":0,"t":2438,"v":0.067},{"p":"g","s":"6","d":0,"t":2625,"v":0.25},{"p":"g","s":"6","d":0,"t":2813,"v":0.5},{"p":"g","s":"6","d":0,"t":3000,"v":0.75},{"p":"g","s":"6","d":0,"t":3188,"v":0.933},{"p":"g","s":"6","d":0,"t":3375,"v":1},{"p":"g","s":"6","d":0,"t":3563,"v":0.933},{"p":"g","s":"6","d":0,"t":3750,"v":0.75},{"p":"g","s":"6","d":0,"t":3938,"v":0.5},{"p":"g","s":"6","d":0,"t":4125,"v":0.25},{"p":"g","s":"6","d":0,"t":4313,"v":0.067},{"p":"g","s":"6","d":0,"t":4500,"v":0},{"p":"g","s":"6","d":0,"t":4688,"v":0.067},{"p":"g","s":"6","d":0,"t":4875,"v":0.25},{"p":"g","s":"6","d":0,"t":5000,"v":0.413},
{"p":"g","s":"5","d":0,"t":0,"v":0},{"p":"g","s":"5","d":0,"t":5000,"v":0},
{"p":"g","s":"1","d":1,"t":0,"v":0},{"p":"g","s":"1","d":1,"t":5000,"v":0},{"p":"g","s":"5","d":1,"t":0,"v":0},{"p":"g","s":"5","d":1,"t":5000,"v":0},{"p":"g","s":"6","d":1,"t":0,"v":0},{"p":"g","s":"6","d":1,"t":5000,"v":0},
{"p":"h","s":"1","d":0,"t":0,"v":1},{"p":"h","s":"1","d":0,"t":175,"v":0.933},{"p":"h","s":"1","d":0,"t":349,"v":0.75},{"p":"h","s":"1","d":0,"t":524,"v":0.5},{"p":"h","s":"1","d":0,"t":698,"v":0.25},{"p":"h","s":"1","d":0,"t":873,"v":0.067},{"p":"h","s":"1","d":0,"t":1048,"v":0},{"p":"h","s":"1","d":0,"t":1222,"v":0.067},{"p":"h","s":"1","d":0,"t":1397,"v":0.25},{"p":"h","s":"1","d":0,"t":1571,"v":0.5},{"p":"h","s":"1","d":0,"t":1746,"v":0.75},{"p":"h","s":"1","d":0,"t":1920,"v":0.933},{"p":"h","s":"1","d":0,"t":2095,"v":1},{"p":"h","s":"1","d":0,"t":2270,"v":0.933},{"p":"h","s":"1","d":0,"t":2444,"v":0.75},{"p":"h","s":"1","d":0,"t":2619,"v":0.5},{"p":"h","s":"1","d":0,"t":2793,"v":0.25},{"p":"h","s":"1","d":0,"t":2968,"v":0.067},{"p":"h","s":"1","d":0,"t":3143,"v":0},{"p":"h","s":"1","d":0,"t":3317,"v":0.067},{"p":"h","s":"1","d":0,"t":3492,"v":0.25},{"p":"h","s":"1","d":0,"t":3666,"v":0.5},{"p":"h","s":"1","d":0,"t":3841,"v":0.75},{"p":"h","s":"1","d":0,"t":4015,"v":0.933},{"p":"h","s":"1","d":0,"t":4190,"v":1},{"p":"h","s":"1","d":0,"t":4365,"v":0.933},{"p":"h","s":"1","d":0,"t":4539,"v":0.75},{"p":"h","s":"1","d":0,"t":4714,"v":0.5},{"p":"h","s":"1","d":0,"t":4888,"v":0.25},{"p":"h","s":"1","d":0,"t":5000,"v":0.12},
{"p":"h","s":"6","d":0,"t":0,"v":0},{"p":"h","s":"6","d":0,"t":175,"v":0.067},{"p":"h","s":"6","d":0,"t":349,"v":0.25},{"p":"h","s":"6","d":0,"t":524,"v":0.5},{"p":"h","s":"6","d":0,"t":698,"v":0.75},{"p":"h","s":"6","d":0,"t":873,"v":0.933},{"p":"h","s":"6","d":0,"t":1048,"v":1},{"p":"h","s":"6","d":0,"t":1222,"v":0.933},{"p":"h","s":"6","d":0,"t":1397,"v":0.75},{"p":"h","s":"6","d":0,"t":1571,"v":0.5},{"p":"h","s":"6","d":0,"t":1746,"v":0.25},{"p":"h","s":"6","d":0,"t":1920,"v":0.067},{"p":"h","s":"6","d":0,"t":2095,"v":0},{"p":"h","s":"6","d":0,"t":2270,"v":0.067},{"p":"h","s":"6","d":0,"t":2444,"v":0.25},{"p":"h","s":"6","d":0,"t":2619,"v":0.5},{"p":"h","s":"6","d":0,"t":2793,"v":0.75},{"p":"h","s":"6","d":0,"t":2968,"v":0.933},{"p":"h","s":"6","d":0,"t":3143,"v":1},{"p":"h","s":"6","d":0,"t":3317,"v":0.933},{"p":"h","s":"6","d":0,"t":3492,"v":0.75},{"p":"h","s":"6","d":0,"t":3666,"v":0.5},{"p":"h","s":"6","d":0,"t":3841,"v":0.25},{"p":"h","s":"6","d":0,"t":4015,"v":0.067},{"p":"h","s":"6","d":0,"t":4190,"v":0},{"p":"h","s":"6","d":0,"t":4365,"v":0.067},{"p":"h","s":"6","d":0,"t":4539,"v":0.25},{"p":"h","s":"6","d":0,"t":4714,"v":0.5},{"p":"h","s":"6","d":0,"t":4888,"v":0.75},{"p":"h","s":"6","d":0,"t":5000,"v":0.88},
{"p":"h","s":"5","d":0,"t":0,"v":0},{"p":"h","s":"5","d":0,"t":5000,"v":0},
{"p":"h","s":"1","d":1,"t":0,"v":0},{"p":"h","s":"1","d":1,"t":5000,"v":0},{"p":"h","s":"5","d":1,"t":0,"v":0},{"p":"h","s":"5","d":1,"t":5000,"v":0},{"p":"h","s":"6","d":1,"t":0,"v":0},{"p":"h","s":"6","d":1,"t":5000,"v":0}
]
},
"spacing":0,
"resolve":{"scale":{"color":"independent","strokeDash":"independent"},"legend":{"color":"independent","strokeDash":"independent"}},
"vconcat":[
{"hconcat":[
{"title":{"text":"(a)\u00a0 1.600 Å"},"spacing":-1,"resolve":{"scale":{"color":"independent","strokeDash":"independent"},"legend":{"color":"independent","strokeDash":"independent"}},"vconcat":[
{"width":525,"height":144,"layer":[
{"data":{"name":"env"},"transform":[{"filter":"datum.p=='a'"}],"mark":{"type":"area","color":"black","clip":true},"encoding":{"x":{"field":"t","type":"quantitative","scale":{"domain":[0,5000],"nice":false},"axis":null},"y":{"field":"hi","type":"quantitative","scale":{"domain":[-1.75,1.75],"nice":false},"axis":{"values":[-1.5,-1,-0.5,0,0.5,1,1.5],"tickCount":20,"format":".1f","title":"⟨μ(t) − μ(0)⟩ (a.u.)","titlePadding":4,"labelOverlap":false}},"y2":{"field":"lo"}}},
{"data":{"name":"la"},"transform":[{"filter":"datum.p=='a'"}],"mark":{"type":"line","clip":true},"encoding":{"x":{"field":"t","type":"quantitative"},"y":{"field":"v","type":"quantitative"},"color":{"field":"s","type":"nominal","scale":{"domain":["Re","Im","Rabi"],"range":["#000000","#ff0000","#0000ff"]},"legend":{"title":null,"symbolSize":900,"labelOffset":11,"zindex":1,"labelExpr":"datum.label=='Rabi'?'Rabi oscillation':datum.label"}},"strokeDash":{"field":"s","type":"nominal","scale":{"domain":["Re","Im","Rabi"],"range":[[1,0],[4,2],[6.4,1.6,1,1.6]]},"legend":{"title":null,"symbolSize":900,"labelOffset":11,"zindex":1,"labelExpr":"datum.label=='Rabi'?'Rabi oscillation':datum.label"}}}},
{"data":{"values":[{}]},"mark":{"type":"text","align":"left","baseline":"top","dx":6,"dy":3},"encoding":{"x":{"datum":0,"type":"quantitative"},"y":{"datum":1.75,"type":"quantitative"},"text":{"value":"(A)"}}}
]},
{"width":525,"height":143,"layer":[
{"data":{"name":"lb"},"transform":[{"filter":"datum.p=='a' && datum.d==0"}],"mark":{"type":"line","clip":true},"encoding":{"x":{"field":"t","type":"quantitative","scale":{"domain":[0,5000],"nice":false},"axis":{"values":[0,1000,2000,3000,4000,5000],"tickCount":20,"format":"d","title":"t (a.u.)","labelPadding":2,"titlePadding":3,"labelOverlap":false}},"y":{"field":"v","type":"quantitative","scale":{"domain":[-1,1.75],"nice":false},"axis":{"values":[-1,-0.5,0,0.5,1,1.5],"tickCount":20,"format":".1f","title":"Population","titlePadding":4,"labelOverlap":false}},"color":{"field":"s","type":"nominal","scale":{"domain":["1","5","6"],"range":["#1f77b4","#ff7f0e","#2ca02c"]},"legend":{"title":null,"symbolSize":784,"labelOffset":13,"zindex":1,"symbolDash":[14,3,4,3,4,3],"labelExpr":"datum.label+' Σ⁺'"}}}},
{"data":{"name":"lb"},"transform":[{"filter":"datum.p=='a' && datum.d==1"}],"mark":{"type":"line","strokeDash":[4,2],"clip":true},"encoding":{"x":{"field":"t","type":"quantitative"},"y":{"field":"v","type":"quantitative"},"color":{"field":"s","type":"nominal","scale":{"domain":["1","5","6"],"range":["#1f77b4","#ff7f0e","#2ca02c"]},"legend":{"title":null,"symbolSize":784,"labelOffset":13,"zindex":1,"symbolDash":[14,3,4,3,4,3],"labelExpr":"datum.label+' Σ⁺'"}}}},
{"data":{"name":"minor"},"mark":{"type":"rule","color":"black","strokeWidth":0.8,"clip":false},"encoding":{"x":{"field":"t","type":"quantitative"},"y":{"datum":-1,"type":"quantitative"},"y2":{"datum":-1.048}}},
{"data":{"values":[{}]},"mark":{"type":"text","align":"left","baseline":"top","dx":6,"dy":3},"encoding":{"x":{"datum":0,"type":"quantitative"},"y":{"datum":1.75,"type":"quantitative"},"text":{"value":"(B)"}}}
]}
]},
{"title":{"text":"(b)\u00a0 1.692 Å"},"spacing":-1,"resolve":{"scale":{"color":"independent","strokeDash":"independent"},"legend":{"color":"independent","strokeDash":"independent"}},"vconcat":[
{"width":525,"height":144,"layer":[
{"data":{"name":"env"},"transform":[{"filter":"datum.p=='b'"}],"mark":{"type":"area","color":"black","clip":true},"encoding":{"x":{"field":"t","type":"quantitative","scale":{"domain":[0,5000],"nice":false},"axis":null},"y":{"field":"hi","type":"quantitative","scale":{"domain":[-1.75,1.75],"nice":false},"axis":{"values":[-1.5,-1,-0.5,0,0.5,1,1.5],"tickCount":20,"format":".1f","title":"⟨μ(t) − μ(0)⟩ (a.u.)","titlePadding":4,"labelOverlap":false}},"y2":{"field":"lo"}}},
{"data":{"name":"la"},"transform":[{"filter":"datum.p=='b'"}],"mark":{"type":"line","clip":true},"encoding":{"x":{"field":"t","type":"quantitative"},"y":{"field":"v","type":"quantitative"},"color":{"field":"s","type":"nominal","scale":{"domain":["Re","Im","Rabi"],"range":["#000000","#ff0000","#0000ff"]},"legend":{"title":null,"symbolSize":900,"labelOffset":11,"zindex":1,"labelExpr":"datum.label=='Rabi'?'Rabi oscillation':datum.label"}},"strokeDash":{"field":"s","type":"nominal","scale":{"domain":["Re","Im","Rabi"],"range":[[1,0],[4,2],[6.4,1.6,1,1.6]]},"legend":{"title":null,"symbolSize":900,"labelOffset":11,"zindex":1,"labelExpr":"datum.label=='Rabi'?'Rabi oscillation':datum.label"}}}},
{"data":{"values":[{}]},"mark":{"type":"text","align":"left","baseline":"top","dx":6,"dy":3},"encoding":{"x":{"datum":0,"type":"quantitative"},"y":{"datum":1.75,"type":"quantitative"},"text":{"value":"(A)"}}}
]},
{"width":525,"height":143,"layer":[
{"data":{"name":"lb"},"transform":[{"filter":"datum.p=='b' && datum.d==0"}],"mark":{"type":"line","clip":true},"encoding":{"x":{"field":"t","type":"quantitative","scale":{"domain":[0,5000],"nice":false},"axis":{"values":[0,1000,2000,3000,4000,5000],"tickCount":20,"format":"d","title":"t (a.u.)","labelPadding":2,"titlePadding":3,"labelOverlap":false}},"y":{"field":"v","type":"quantitative","scale":{"domain":[-1,1.75],"nice":false},"axis":{"values":[-1,-0.5,0,0.5,1,1.5],"tickCount":20,"format":".1f","title":"Population","titlePadding":4,"labelOverlap":false}},"color":{"field":"s","type":"nominal","scale":{"domain":["1","5","6"],"range":["#1f77b4","#ff7f0e","#2ca02c"]},"legend":{"title":null,"symbolSize":784,"labelOffset":13,"zindex":1,"symbolDash":[14,3,4,3,4,3],"labelExpr":"datum.label+' Σ⁺'"}}}},
{"data":{"name":"lb"},"transform":[{"filter":"datum.p=='b' && datum.d==1"}],"mark":{"type":"line","strokeDash":[4,2],"clip":true},"encoding":{"x":{"field":"t","type":"quantitative"},"y":{"field":"v","type":"quantitative"},"color":{"field":"s","type":"nominal","scale":{"domain":["1","5","6"],"range":["#1f77b4","#ff7f0e","#2ca02c"]},"legend":{"title":null,"symbolSize":784,"labelOffset":13,"zindex":1,"symbolDash":[14,3,4,3,4,3],"labelExpr":"datum.label+' Σ⁺'"}}}},
{"data":{"name":"minor"},"mark":{"type":"rule","color":"black","strokeWidth":0.8,"clip":false},"encoding":{"x":{"field":"t","type":"quantitative"},"y":{"datum":-1,"type":"quantitative"},"y2":{"datum":-1.048}}},
{"data":{"values":[{}]},"mark":{"type":"text","align":"left","baseline":"top","dx":6,"dy":3},"encoding":{"x":{"datum":0,"type":"quantitative"},"y":{"datum":1.75,"type":"quantitative"},"text":{"value":"(B)"}}}
]}
]}
],"spacing":10,"resolve":{"scale":{"color":"independent","strokeDash":"independent"},"legend":{"color":"independent","strokeDash":"independent"}}},
{"hconcat":[
{"title":{"text":"(c)\u00a0 1.790 Å"},"spacing":-1,"resolve":{"scale":{"color":"independent","strokeDash":"independent"},"legend":{"color":"independent","strokeDash":"independent"}},"vconcat":[
{"width":525,"height":144,"layer":[
{"data":{"name":"env"},"transform":[{"filter":"datum.p=='c'"}],"mark":{"type":"area","color":"black","interpolate":"linear","clip":true},"encoding":{"x":{"field":"t","type":"quantitative","scale":{"domain":[0,5000],"nice":false},"axis":null},"y":{"field":"hi","type":"quantitative","scale":{"domain":[-1.75,1.75],"nice":false},"axis":{"values":[-1.5,-1,-0.5,0,0.5,1,1.5],"tickCount":20,"format":".1f","title":"⟨μ(t) − μ(0)⟩ (a.u.)","titlePadding":4,"labelOverlap":false}},"y2":{"field":"lo"}}},
{"data":{"name":"la"},"transform":[{"filter":"datum.p=='c'"}],"mark":{"type":"line","clip":true},"encoding":{"x":{"field":"t","type":"quantitative"},"y":{"field":"v","type":"quantitative"},"color":{"field":"s","type":"nominal","scale":{"domain":["Re","Im","Rabi"],"range":["#000000","#ff0000","#0000ff"]},"legend":{"title":null,"symbolSize":900,"labelOffset":11,"zindex":1,"labelExpr":"datum.label=='Rabi'?'Rabi oscillation':datum.label"}},"strokeDash":{"field":"s","type":"nominal","scale":{"domain":["Re","Im","Rabi"],"range":[[1,0],[4,2],[6.4,1.6,1,1.6]]},"legend":{"title":null,"symbolSize":900,"labelOffset":11,"zindex":1,"labelExpr":"datum.label=='Rabi'?'Rabi oscillation':datum.label"}}}},
{"data":{"values":[{}]},"mark":{"type":"text","align":"left","baseline":"top","dx":6,"dy":3},"encoding":{"x":{"datum":0,"type":"quantitative"},"y":{"datum":1.75,"type":"quantitative"},"text":{"value":"(A)"}}}
]},
{"width":525,"height":143,"layer":[
{"data":{"name":"lb"},"transform":[{"filter":"datum.p=='c' && datum.d==0"}],"mark":{"type":"line","clip":true},"encoding":{"x":{"field":"t","type":"quantitative","scale":{"domain":[0,5000],"nice":false},"axis":{"values":[0,1000,2000,3000,4000,5000],"tickCount":20,"format":"d","title":"t (a.u.)","labelPadding":2,"titlePadding":3,"labelOverlap":false}},"y":{"field":"v","type":"quantitative","scale":{"domain":[-1,1.75],"nice":false},"axis":{"values":[-1,-0.5,0,0.5,1,1.5],"tickCount":20,"format":".1f","title":"Population","titlePadding":4,"labelOverlap":false}},"color":{"field":"s","type":"nominal","scale":{"domain":["1","5","6"],"range":["#1f77b4","#ff7f0e","#2ca02c"]},"legend":{"title":null,"symbolSize":784,"labelOffset":13,"zindex":1,"symbolDash":[14,3,4,3,4,3],"labelExpr":"datum.label+' Σ⁺'"}}}},
{"data":{"name":"lb"},"transform":[{"filter":"datum.p=='c' && datum.d==1"}],"mark":{"type":"line","strokeDash":[4,2],"clip":true},"encoding":{"x":{"field":"t","type":"quantitative"},"y":{"field":"v","type":"quantitative"},"color":{"field":"s","type":"nominal","scale":{"domain":["1","5","6"],"range":["#1f77b4","#ff7f0e","#2ca02c"]},"legend":{"title":null,"symbolSize":784,"labelOffset":13,"zindex":1,"symbolDash":[14,3,4,3,4,3],"labelExpr":"datum.label+' Σ⁺'"}}}},
{"data":{"name":"minor"},"mark":{"type":"rule","color":"black","strokeWidth":0.8,"clip":false},"encoding":{"x":{"field":"t","type":"quantitative"},"y":{"datum":-1,"type":"quantitative"},"y2":{"datum":-1.048}}},
{"data":{"values":[{}]},"mark":{"type":"text","align":"left","baseline":"top","dx":6,"dy":3},"encoding":{"x":{"datum":0,"type":"quantitative"},"y":{"datum":1.75,"type":"quantitative"},"text":{"value":"(B)"}}}
]}
]},
{"title":{"text":"(d)\u00a0 1.800 Å"},"spacing":-1,"resolve":{"scale":{"color":"independent","strokeDash":"independent"},"legend":{"color":"independent","strokeDash":"independent"}},"vconcat":[
{"width":525,"height":144,"layer":[
{"data":{"name":"env"},"transform":[{"filter":"datum.p=='d'"}],"mark":{"type":"area","color":"black","clip":true},"encoding":{"x":{"field":"t","type":"quantitative","scale":{"domain":[0,5000],"nice":false},"axis":null},"y":{"field":"hi","type":"quantitative","scale":{"domain":[-1.75,1.75],"nice":false},"axis":{"values":[-1.5,-1,-0.5,0,0.5,1,1.5],"tickCount":20,"format":".1f","title":"⟨μ(t) − μ(0)⟩ (a.u.)","titlePadding":4,"labelOverlap":false}},"y2":{"field":"lo"}}},
{"data":{"name":"la"},"transform":[{"filter":"datum.p=='d'"}],"mark":{"type":"line","clip":true},"encoding":{"x":{"field":"t","type":"quantitative"},"y":{"field":"v","type":"quantitative"},"color":{"field":"s","type":"nominal","scale":{"domain":["Re","Im","Rabi"],"range":["#000000","#ff0000","#0000ff"]},"legend":{"title":null,"symbolSize":900,"labelOffset":11,"zindex":1,"labelExpr":"datum.label=='Rabi'?'Rabi oscillation':datum.label"}},"strokeDash":{"field":"s","type":"nominal","scale":{"domain":["Re","Im","Rabi"],"range":[[1,0],[4,2],[6.4,1.6,1,1.6]]},"legend":{"title":null,"symbolSize":900,"labelOffset":11,"zindex":1,"labelExpr":"datum.label=='Rabi'?'Rabi oscillation':datum.label"}}}},
{"data":{"values":[{}]},"mark":{"type":"text","align":"left","baseline":"top","dx":6,"dy":3},"encoding":{"x":{"datum":0,"type":"quantitative"},"y":{"datum":1.75,"type":"quantitative"},"text":{"value":"(A)"}}}
]},
{"width":525,"height":143,"layer":[
{"data":{"name":"lb"},"transform":[{"filter":"datum.p=='d' && datum.d==0"}],"mark":{"type":"line","clip":true},"encoding":{"x":{"field":"t","type":"quantitative","scale":{"domain":[0,5000],"nice":false},"axis":{"values":[0,1000,2000,3000,4000,5000],"tickCount":20,"format":"d","title":"t (a.u.)","labelPadding":2,"titlePadding":3,"labelOverlap":false}},"y":{"field":"v","type":"quantitative","scale":{"domain":[-1,1.75],"nice":false},"axis":{"values":[-1,-0.5,0,0.5,1,1.5],"tickCount":20,"format":".1f","title":"Population","titlePadding":4,"labelOverlap":false}},"color":{"field":"s","type":"nominal","scale":{"domain":["1","5","6"],"range":["#1f77b4","#ff7f0e","#2ca02c"]},"legend":{"title":null,"symbolSize":784,"labelOffset":13,"zindex":1,"symbolDash":[14,3,4,3,4,3],"labelExpr":"datum.label+' Σ⁺'"}}}},
{"data":{"name":"lb"},"transform":[{"filter":"datum.p=='d' && datum.d==1"}],"mark":{"type":"line","strokeDash":[4,2],"clip":true},"encoding":{"x":{"field":"t","type":"quantitative"},"y":{"field":"v","type":"quantitative"},"color":{"field":"s","type":"nominal","scale":{"domain":["1","5","6"],"range":["#1f77b4","#ff7f0e","#2ca02c"]},"legend":{"title":null,"symbolSize":784,"labelOffset":13,"zindex":1,"symbolDash":[14,3,4,3,4,3],"labelExpr":"datum.label+' Σ⁺'"}}}},
{"data":{"name":"minor"},"mark":{"type":"rule","color":"black","strokeWidth":0.8,"clip":false},"encoding":{"x":{"field":"t","type":"quantitative"},"y":{"datum":-1,"type":"quantitative"},"y2":{"datum":-1.048}}},
{"data":{"values":[{}]},"mark":{"type":"text","align":"left","baseline":"top","dx":6,"dy":3},"encoding":{"x":{"datum":0,"type":"quantitative"},"y":{"datum":1.75,"type":"quantitative"},"text":{"value":"(B)"}}}
]}
]}
],"spacing":10,"resolve":{"scale":{"color":"independent","strokeDash":"independent"},"legend":{"color":"independent","strokeDash":"independent"}}},
{"hconcat":[
{"title":{"text":"(e)\u00a0 1.820 Å"},"spacing":-1,"resolve":{"scale":{"color":"independent","strokeDash":"independent"},"legend":{"color":"independent","strokeDash":"independent"}},"vconcat":[
{"width":525,"height":144,"layer":[
{"data":{"name":"env"},"transform":[{"filter":"datum.p=='e'"}],"mark":{"type":"area","color":"black","clip":true},"encoding":{"x":{"field":"t","type":"quantitative","scale":{"domain":[0,5000],"nice":false},"axis":null},"y":{"field":"hi","type":"quantitative","scale":{"domain":[-1.75,1.75],"nice":false},"axis":{"values":[-1.5,-1,-0.5,0,0.5,1,1.5],"tickCount":20,"format":".1f","title":"⟨μ(t) − μ(0)⟩ (a.u.)","titlePadding":4,"labelOverlap":false}},"y2":{"field":"lo"}}},
{"data":{"name":"la"},"transform":[{"filter":"datum.p=='e'"}],"mark":{"type":"line","clip":true},"encoding":{"x":{"field":"t","type":"quantitative"},"y":{"field":"v","type":"quantitative"},"color":{"field":"s","type":"nominal","scale":{"domain":["Re","Im","Rabi"],"range":["#000000","#ff0000","#0000ff"]},"legend":{"title":null,"symbolSize":900,"labelOffset":11,"zindex":1,"labelExpr":"datum.label=='Rabi'?'Rabi oscillation':datum.label"}},"strokeDash":{"field":"s","type":"nominal","scale":{"domain":["Re","Im","Rabi"],"range":[[1,0],[4,2],[6.4,1.6,1,1.6]]},"legend":{"title":null,"symbolSize":900,"labelOffset":11,"zindex":1,"labelExpr":"datum.label=='Rabi'?'Rabi oscillation':datum.label"}}}},
{"data":{"values":[{}]},"mark":{"type":"text","align":"left","baseline":"top","dx":6,"dy":3},"encoding":{"x":{"datum":0,"type":"quantitative"},"y":{"datum":1.75,"type":"quantitative"},"text":{"value":"(A)"}}}
]},
{"width":525,"height":143,"layer":[
{"data":{"name":"lb"},"transform":[{"filter":"datum.p=='e' && datum.d==0"}],"mark":{"type":"line","clip":true},"encoding":{"x":{"field":"t","type":"quantitative","scale":{"domain":[0,5000],"nice":false},"axis":{"values":[0,1000,2000,3000,4000,5000],"tickCount":20,"format":"d","title":"t (a.u.)","labelPadding":2,"titlePadding":3,"labelOverlap":false}},"y":{"field":"v","type":"quantitative","scale":{"domain":[-1,1.75],"nice":false},"axis":{"values":[-1,-0.5,0,0.5,1,1.5],"tickCount":20,"format":".1f","title":"Population","titlePadding":4,"labelOverlap":false}},"color":{"field":"s","type":"nominal","scale":{"domain":["1","5","6"],"range":["#1f77b4","#ff7f0e","#2ca02c"]},"legend":{"title":null,"symbolSize":784,"labelOffset":13,"zindex":1,"symbolDash":[14,3,4,3,4,3],"labelExpr":"datum.label+' Σ⁺'"}}}},
{"data":{"name":"band"},"transform":[{"filter":"datum.p=='e' && datum.s=='6'"}],"mark":{"type":"area","color":"#2ca02c","opacity":0.8,"clip":true},"encoding":{"x":{"field":"t","type":"quantitative"},"y":{"field":"hi","type":"quantitative"},"y2":{"field":"lo"}}},
{"data":{"name":"band"},"transform":[{"filter":"datum.p=='e' && datum.s=='1'"}],"mark":{"type":"area","color":"#1f77b4","opacity":0.9,"clip":true},"encoding":{"x":{"field":"t","type":"quantitative"},"y":{"field":"hi","type":"quantitative"},"y2":{"field":"lo"}}},
{"data":{"name":"lb"},"transform":[{"filter":"datum.p=='e' && datum.d==1"}],"mark":{"type":"line","strokeDash":[4,2],"clip":true},"encoding":{"x":{"field":"t","type":"quantitative"},"y":{"field":"v","type":"quantitative"},"color":{"field":"s","type":"nominal","scale":{"domain":["1","5","6"],"range":["#1f77b4","#ff7f0e","#2ca02c"]},"legend":{"title":null,"symbolSize":784,"labelOffset":13,"zindex":1,"symbolDash":[14,3,4,3,4,3],"labelExpr":"datum.label+' Σ⁺'"}}}},
{"data":{"name":"minor"},"mark":{"type":"rule","color":"black","strokeWidth":0.8,"clip":false},"encoding":{"x":{"field":"t","type":"quantitative"},"y":{"datum":-1,"type":"quantitative"},"y2":{"datum":-1.048}}},
{"data":{"values":[{}]},"mark":{"type":"text","align":"left","baseline":"top","dx":6,"dy":3},"encoding":{"x":{"datum":0,"type":"quantitative"},"y":{"datum":1.75,"type":"quantitative"},"text":{"value":"(B)"}}}
]}
]},
{"title":{"text":"(f)\u00a0 1.830 Å"},"spacing":-1,"resolve":{"scale":{"color":"independent","strokeDash":"independent"},"legend":{"color":"independent","strokeDash":"independent"}},"vconcat":[
{"width":525,"height":144,"layer":[
{"data":{"name":"env"},"transform":[{"filter":"datum.p=='f'"}],"mark":{"type":"area","color":"black","clip":true},"encoding":{"x":{"field":"t","type":"quantitative","scale":{"domain":[0,5000],"nice":false},"axis":null},"y":{"field":"hi","type":"quantitative","scale":{"domain":[-1.75,1.75],"nice":false},"axis":{"values":[-1.5,-1,-0.5,0,0.5,1,1.5],"tickCount":20,"format":".1f","title":"⟨μ(t) − μ(0)⟩ (a.u.)","titlePadding":4,"labelOverlap":false}},"y2":{"field":"lo"}}},
{"data":{"name":"la"},"transform":[{"filter":"datum.p=='f'"}],"mark":{"type":"line","clip":true},"encoding":{"x":{"field":"t","type":"quantitative"},"y":{"field":"v","type":"quantitative"},"color":{"field":"s","type":"nominal","scale":{"domain":["Re","Im","Rabi"],"range":["#000000","#ff0000","#0000ff"]},"legend":{"title":null,"symbolSize":900,"labelOffset":11,"zindex":1,"labelExpr":"datum.label=='Rabi'?'Rabi oscillation':datum.label"}},"strokeDash":{"field":"s","type":"nominal","scale":{"domain":["Re","Im","Rabi"],"range":[[1,0],[4,2],[6.4,1.6,1,1.6]]},"legend":{"title":null,"symbolSize":900,"labelOffset":11,"zindex":1,"labelExpr":"datum.label=='Rabi'?'Rabi oscillation':datum.label"}}}},
{"data":{"values":[{}]},"mark":{"type":"text","align":"left","baseline":"top","dx":6,"dy":3},"encoding":{"x":{"datum":0,"type":"quantitative"},"y":{"datum":1.75,"type":"quantitative"},"text":{"value":"(A)"}}}
]},
{"width":525,"height":143,"layer":[
{"data":{"name":"lb"},"transform":[{"filter":"datum.p=='f' && datum.d==0"}],"mark":{"type":"line","clip":true},"encoding":{"x":{"field":"t","type":"quantitative","scale":{"domain":[0,5000],"nice":false},"axis":{"values":[0,1000,2000,3000,4000,5000],"tickCount":20,"format":"d","title":"t (a.u.)","labelPadding":2,"titlePadding":3,"labelOverlap":false}},"y":{"field":"v","type":"quantitative","scale":{"domain":[-1,1.75],"nice":false},"axis":{"values":[-1,-0.5,0,0.5,1,1.5],"tickCount":20,"format":".1f","title":"Population","titlePadding":4,"labelOverlap":false}},"color":{"field":"s","type":"nominal","scale":{"domain":["1","5","6"],"range":["#1f77b4","#ff7f0e","#2ca02c"]},"legend":{"title":null,"symbolSize":784,"labelOffset":13,"zindex":1,"symbolDash":[14,3,4,3,4,3],"labelExpr":"datum.label+' Σ⁺'"}}}},
{"data":{"name":"lb"},"transform":[{"filter":"datum.p=='f' && datum.d==1"}],"mark":{"type":"line","strokeDash":[4,2],"clip":true},"encoding":{"x":{"field":"t","type":"quantitative"},"y":{"field":"v","type":"quantitative"},"color":{"field":"s","type":"nominal","scale":{"domain":["1","5","6"],"range":["#1f77b4","#ff7f0e","#2ca02c"]},"legend":{"title":null,"symbolSize":784,"labelOffset":13,"zindex":1,"symbolDash":[14,3,4,3,4,3],"labelExpr":"datum.label+' Σ⁺'"}}}},
{"data":{"name":"minor"},"mark":{"type":"rule","color":"black","strokeWidth":0.8,"clip":false},"encoding":{"x":{"field":"t","type":"quantitative"},"y":{"datum":-1,"type":"quantitative"},"y2":{"datum":-1.048}}},
{"data":{"values":[{}]},"mark":{"type":"text","align":"left","baseline":"top","dx":6,"dy":3},"encoding":{"x":{"datum":0,"type":"quantitative"},"y":{"datum":1.75,"type":"quantitative"},"text":{"value":"(B)"}}}
]}
]}
],"spacing":10,"resolve":{"scale":{"color":"independent","strokeDash":"independent"},"legend":{"color":"independent","strokeDash":"independent"}}},
{"hconcat":[
{"title":{"text":"(g)\u00a0 1.900 Å"},"spacing":-1,"resolve":{"scale":{"color":"independent","strokeDash":"independent"},"legend":{"color":"independent","strokeDash":"independent"}},"vconcat":[
{"width":525,"height":144,"layer":[
{"data":{"name":"env"},"transform":[{"filter":"datum.p=='g'"}],"mark":{"type":"area","color":"black","interpolate":"linear","clip":true},"encoding":{"x":{"field":"t","type":"quantitative","scale":{"domain":[0,5000],"nice":false},"axis":null},"y":{"field":"hi","type":"quantitative","scale":{"domain":[-1.75,1.75],"nice":false},"axis":{"values":[-1.5,-1,-0.5,0,0.5,1,1.5],"tickCount":20,"format":".1f","title":"⟨μ(t) − μ(0)⟩ (a.u.)","titlePadding":4,"labelOverlap":false}},"y2":{"field":"lo"}}},
{"data":{"name":"la"},"transform":[{"filter":"datum.p=='g'"}],"mark":{"type":"line","clip":true},"encoding":{"x":{"field":"t","type":"quantitative"},"y":{"field":"v","type":"quantitative"},"color":{"field":"s","type":"nominal","scale":{"domain":["Re","Im","Rabi"],"range":["#000000","#ff0000","#0000ff"]},"legend":{"title":null,"symbolSize":900,"labelOffset":11,"zindex":1,"labelExpr":"datum.label=='Rabi'?'Rabi oscillation':datum.label"}},"strokeDash":{"field":"s","type":"nominal","scale":{"domain":["Re","Im","Rabi"],"range":[[1,0],[4,2],[6.4,1.6,1,1.6]]},"legend":{"title":null,"symbolSize":900,"labelOffset":11,"zindex":1,"labelExpr":"datum.label=='Rabi'?'Rabi oscillation':datum.label"}}}},
{"data":{"values":[{}]},"mark":{"type":"text","align":"left","baseline":"top","dx":6,"dy":3},"encoding":{"x":{"datum":0,"type":"quantitative"},"y":{"datum":1.75,"type":"quantitative"},"text":{"value":"(A)"}}}
]},
{"width":525,"height":143,"layer":[
{"data":{"name":"lb"},"transform":[{"filter":"datum.p=='g' && datum.d==0"}],"mark":{"type":"line","clip":true},"encoding":{"x":{"field":"t","type":"quantitative","scale":{"domain":[0,5000],"nice":false},"axis":{"values":[0,1000,2000,3000,4000,5000],"tickCount":20,"format":"d","title":"t (a.u.)","labelPadding":2,"titlePadding":3,"labelOverlap":false}},"y":{"field":"v","type":"quantitative","scale":{"domain":[-1,1.75],"nice":false},"axis":{"values":[-1,-0.5,0,0.5,1,1.5],"tickCount":20,"format":".1f","title":"Population","titlePadding":4,"labelOverlap":false}},"color":{"field":"s","type":"nominal","scale":{"domain":["1","5","6"],"range":["#1f77b4","#ff7f0e","#2ca02c"]},"legend":{"title":null,"symbolSize":784,"labelOffset":13,"zindex":1,"symbolDash":[14,3,4,3,4,3],"labelExpr":"datum.label+' Σ⁺'"}}}},
{"data":{"name":"lb"},"transform":[{"filter":"datum.p=='g' && datum.d==1"}],"mark":{"type":"line","strokeDash":[4,2],"clip":true},"encoding":{"x":{"field":"t","type":"quantitative"},"y":{"field":"v","type":"quantitative"},"color":{"field":"s","type":"nominal","scale":{"domain":["1","5","6"],"range":["#1f77b4","#ff7f0e","#2ca02c"]},"legend":{"title":null,"symbolSize":784,"labelOffset":13,"zindex":1,"symbolDash":[14,3,4,3,4,3],"labelExpr":"datum.label+' Σ⁺'"}}}},
{"data":{"name":"minor"},"mark":{"type":"rule","color":"black","strokeWidth":0.8,"clip":false},"encoding":{"x":{"field":"t","type":"quantitative"},"y":{"datum":-1,"type":"quantitative"},"y2":{"datum":-1.048}}},
{"data":{"values":[{}]},"mark":{"type":"text","align":"left","baseline":"top","dx":6,"dy":3},"encoding":{"x":{"datum":0,"type":"quantitative"},"y":{"datum":1.75,"type":"quantitative"},"text":{"value":"(B)"}}}
]}
]},
{"title":{"text":"(h)\u00a0 2.000 Å"},"spacing":-1,"resolve":{"scale":{"color":"independent","strokeDash":"independent"},"legend":{"color":"independent","strokeDash":"independent"}},"vconcat":[
{"width":525,"height":144,"layer":[
{"data":{"name":"env"},"transform":[{"filter":"datum.p=='h'"}],"mark":{"type":"area","color":"black","interpolate":"linear","clip":true},"encoding":{"x":{"field":"t","type":"quantitative","scale":{"domain":[0,5000],"nice":false},"axis":null},"y":{"field":"hi","type":"quantitative","scale":{"domain":[-1.75,1.75],"nice":false},"axis":{"values":[-1.5,-1,-0.5,0,0.5,1,1.5],"tickCount":20,"format":".1f","title":"⟨μ(t) − μ(0)⟩ (a.u.)","titlePadding":4,"labelOverlap":false}},"y2":{"field":"lo"}}},
{"data":{"name":"la"},"transform":[{"filter":"datum.p=='h'"}],"mark":{"type":"line","clip":true},"encoding":{"x":{"field":"t","type":"quantitative"},"y":{"field":"v","type":"quantitative"},"color":{"field":"s","type":"nominal","scale":{"domain":["Re","Im","Rabi"],"range":["#000000","#ff0000","#0000ff"]},"legend":{"title":null,"symbolSize":900,"labelOffset":11,"zindex":1,"labelExpr":"datum.label=='Rabi'?'Rabi oscillation':datum.label"}},"strokeDash":{"field":"s","type":"nominal","scale":{"domain":["Re","Im","Rabi"],"range":[[1,0],[4,2],[6.4,1.6,1,1.6]]},"legend":{"title":null,"symbolSize":900,"labelOffset":11,"zindex":1,"labelExpr":"datum.label=='Rabi'?'Rabi oscillation':datum.label"}}}},
{"data":{"values":[{}]},"mark":{"type":"text","align":"left","baseline":"top","dx":6,"dy":3},"encoding":{"x":{"datum":0,"type":"quantitative"},"y":{"datum":1.75,"type":"quantitative"},"text":{"value":"(A)"}}}
]},
{"width":525,"height":143,"layer":[
{"data":{"name":"lb"},"transform":[{"filter":"datum.p=='h' && datum.d==0"}],"mark":{"type":"line","clip":true},"encoding":{"x":{"field":"t","type":"quantitative","scale":{"domain":[0,5000],"nice":false},"axis":{"values":[0,1000,2000,3000,4000,5000],"tickCount":20,"format":"d","title":"t (a.u.)","labelPadding":2,"titlePadding":3,"labelOverlap":false}},"y":{"field":"v","type":"quantitative","scale":{"domain":[-1,1.75],"nice":false},"axis":{"values":[-1,-0.5,0,0.5,1,1.5],"tickCount":20,"format":".1f","title":"Population","titlePadding":4,"labelOverlap":false}},"color":{"field":"s","type":"nominal","scale":{"domain":["1","5","6"],"range":["#1f77b4","#ff7f0e","#2ca02c"]},"legend":{"title":null,"symbolSize":784,"labelOffset":13,"zindex":1,"symbolDash":[14,3,4,3,4,3],"labelExpr":"datum.label+' Σ⁺'"}}}},
{"data":{"name":"lb"},"transform":[{"filter":"datum.p=='h' && datum.d==1"}],"mark":{"type":"line","strokeDash":[4,2],"clip":true},"encoding":{"x":{"field":"t","type":"quantitative"},"y":{"field":"v","type":"quantitative"},"color":{"field":"s","type":"nominal","scale":{"domain":["1","5","6"],"range":["#1f77b4","#ff7f0e","#2ca02c"]},"legend":{"title":null,"symbolSize":784,"labelOffset":13,"zindex":1,"symbolDash":[14,3,4,3,4,3],"labelExpr":"datum.label+' Σ⁺'"}}}},
{"data":{"name":"minor"},"mark":{"type":"rule","color":"black","strokeWidth":0.8,"clip":false},"encoding":{"x":{"field":"t","type":"quantitative"},"y":{"datum":-1,"type":"quantitative"},"y2":{"datum":-1.048}}},
{"data":{"values":[{}]},"mark":{"type":"text","align":"left","baseline":"top","dx":6,"dy":3},"encoding":{"x":{"datum":0,"type":"quantitative"},"y":{"datum":1.75,"type":"quantitative"},"text":{"value":"(B)"}}}
]}
]}
],"spacing":10,"resolve":{"scale":{"color":"independent","strokeDash":"independent"},"legend":{"color":"independent","strokeDash":"independent"}}}
]
}
